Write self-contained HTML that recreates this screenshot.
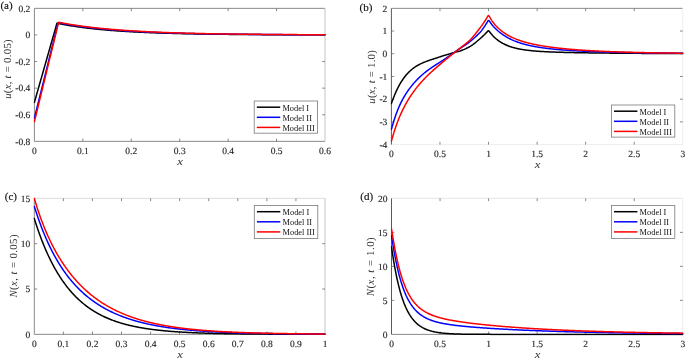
<!DOCTYPE html>
<html><head><meta charset="utf-8"><title>Figure</title>
<style>
html,body{margin:0;padding:0;background:#fff;width:685px;height:359px;overflow:hidden}
svg{display:block}
.t{font-family:"Liberation Serif",serif;font-size:9.5px;fill:#262626;stroke:#262626;stroke-width:0.15px;text-rendering:geometricPrecision}
.lg{font-family:"Liberation Serif",serif;font-size:8.4px;fill:#111}
.ax{font-family:"Liberation Serif",serif;font-size:10.8px;fill:#333;text-rendering:geometricPrecision}
.pl{font-family:"Liberation Serif",serif;font-size:11px;fill:#111;stroke:#111;stroke-width:0.15px}
</style></head><body>
<svg width="685" height="359" viewBox="0 0 685 359"><defs><clipPath id="clipa"><rect x="33.60" y="7.35" width="292.20" height="135.00"/></clipPath><clipPath id="clipb"><rect x="390.60" y="7.35" width="293.00" height="138.25"/></clipPath><clipPath id="clipc"><rect x="33.50" y="197.35" width="292.30" height="138.00"/></clipPath><clipPath id="clipd"><rect x="390.70" y="197.35" width="292.90" height="138.05"/></clipPath></defs><line x1="34.4" y1="8.35" x2="325.0" y2="8.35" stroke="#8a8a8a" stroke-width="1"/><line x1="34.4" y1="141.35" x2="325.0" y2="141.35" stroke="#8a8a8a" stroke-width="1"/><line x1="34.4" y1="8.35" x2="34.4" y2="141.35" stroke="#8a8a8a" stroke-width="1"/><line x1="325.0" y1="8.35" x2="325.0" y2="141.35" stroke="#c4c4c4" stroke-width="1"/><path d="M82.83 141.35v-2.8M82.83 8.35v2.8M131.27 141.35v-2.8M131.27 8.35v2.8M179.70 141.35v-2.8M179.70 8.35v2.8M228.13 141.35v-2.8M228.13 8.35v2.8M276.57 141.35v-2.8M276.57 8.35v2.8M34.4 114.75h2.8M325.0 114.75h-2.8M34.4 88.15h2.8M325.0 88.15h-2.8M34.4 61.55h2.8M325.0 61.55h-2.8M34.4 34.95h2.8M325.0 34.95h-2.8" stroke="#6a6a6a" stroke-width="0.8" fill="none"/><g clip-path="url(#clipa)"><polyline points="34.40,102.38 35.59,98.22 36.77,94.05 37.96,89.89 39.14,85.72 40.33,81.56 41.51,77.39 42.70,73.23 43.88,69.06 45.07,64.90 46.25,60.73 47.44,56.57 48.62,52.40 49.81,48.24 50.99,44.07 52.18,39.91 53.37,35.74 54.55,31.58 55.74,27.41 56.92,23.25 58.27,23.52 59.62,23.78 60.96,24.05 62.31,24.30 63.66,24.55 65.00,24.79 66.35,25.03 67.70,25.26 69.05,25.48 70.39,25.70 71.74,25.92 73.09,26.13 74.43,26.34 75.78,26.54 77.13,26.73 78.48,26.92 79.82,27.11 81.17,27.29 82.52,27.47 83.86,27.65 85.21,27.82 86.56,27.98 87.91,28.14 89.25,28.30 90.60,28.46 91.95,28.61 93.29,28.76 94.64,28.90 95.99,29.04 97.34,29.18 98.68,29.31 100.03,29.45 101.38,29.57 102.72,29.70 104.07,29.82 105.42,29.94 106.77,30.06 108.11,30.17 109.46,30.28 110.81,30.39 112.15,30.50 113.50,30.60 114.85,30.70 116.20,30.80 117.54,30.90 118.89,30.99 120.24,31.08 121.58,31.17 122.93,31.26 124.28,31.35 125.63,31.43 126.97,31.51 128.32,31.59 129.67,31.67 131.01,31.75 132.36,31.82 133.71,31.90 135.05,31.97 136.40,32.04 137.75,32.10 139.10,32.17 140.44,32.24 141.79,32.30 143.14,32.36 144.48,32.42 145.83,32.48 147.18,32.54 148.53,32.59 149.87,32.65 151.22,32.70 152.57,32.75 153.91,32.81 155.26,32.86 156.61,32.90 157.96,32.95 159.30,33.00 160.65,33.04 162.00,33.09 163.34,33.13 164.69,33.17 166.04,33.22 167.39,33.26 168.73,33.30 170.08,33.33 171.43,33.37 172.77,33.41 174.12,33.44 175.47,33.48 176.82,33.51 178.16,33.55 179.51,33.58 180.86,33.61 182.20,33.64 183.55,33.67 184.90,33.70 186.25,33.73 187.59,33.76 188.94,33.79 190.29,33.82 191.63,33.84 192.98,33.87 194.33,33.89 195.68,33.92 197.02,33.94 198.37,33.96 199.72,33.99 201.06,34.01 202.41,34.03 203.76,34.05 205.11,34.07 206.45,34.09 207.80,34.11 209.15,34.13 210.49,34.15 211.84,34.17 213.19,34.19 214.54,34.21 215.88,34.22 217.23,34.24 218.58,34.26 219.92,34.27 221.27,34.29 222.62,34.31 223.97,34.32 225.31,34.34 226.66,34.35 228.01,34.36 229.35,34.38 230.70,34.39 232.05,34.40 233.40,34.42 234.74,34.43 236.09,34.44 237.44,34.45 238.78,34.46 240.13,34.48 241.48,34.49 242.83,34.50 244.17,34.51 245.52,34.52 246.87,34.53 248.21,34.54 249.56,34.55 250.91,34.56 252.26,34.57 253.60,34.58 254.95,34.58 256.30,34.59 257.64,34.60 258.99,34.61 260.34,34.62 261.68,34.62 263.03,34.63 264.38,34.64 265.73,34.65 267.07,34.65 268.42,34.66 269.77,34.67 271.11,34.67 272.46,34.68 273.81,34.69 275.16,34.69 276.50,34.70 277.85,34.70 279.20,34.71 280.54,34.72 281.89,34.72 283.24,34.73 284.59,34.73 285.93,34.74 287.28,34.74 288.63,34.75 289.97,34.75 291.32,34.76 292.67,34.76 294.02,34.77 295.36,34.77 296.71,34.77 298.06,34.78 299.40,34.78 300.75,34.79 302.10,34.79 303.45,34.79 304.79,34.80 306.14,34.80 307.49,34.80 308.83,34.81 310.18,34.81 311.53,34.81 312.88,34.82 314.22,34.82 315.57,34.82 316.92,34.83 318.26,34.83 319.61,34.83 320.96,34.83 322.31,34.84 323.65,34.84 325.00,34.84" fill="none" stroke="#000000" stroke-width="1.5" stroke-linejoin="round" stroke-linecap="round"/><polyline points="34.40,117.94 35.65,112.93 36.90,107.92 38.15,102.91 39.40,97.89 40.65,92.88 41.89,87.87 43.14,82.86 44.39,77.85 45.64,72.83 46.89,67.82 48.14,62.81 49.39,57.80 50.64,52.79 51.89,47.77 53.14,42.76 54.39,37.75 55.63,32.74 56.88,27.73 58.13,22.71 59.47,22.98 60.81,23.23 62.16,23.48 63.50,23.73 64.84,23.97 66.18,24.20 67.52,24.43 68.86,24.66 70.20,24.88 71.54,25.09 72.88,25.31 74.22,25.51 75.57,25.71 76.91,25.91 78.25,26.10 79.59,26.29 80.93,26.48 82.27,26.66 83.61,26.84 84.95,27.01 86.29,27.18 87.64,27.35 88.98,27.51 90.32,27.67 91.66,27.83 93.00,27.98 94.34,28.13 95.68,28.27 97.02,28.42 98.36,28.56 99.70,28.69 101.05,28.83 102.39,28.96 103.73,29.09 105.07,29.21 106.41,29.33 107.75,29.45 109.09,29.57 110.43,29.69 111.77,29.80 113.12,29.91 114.46,30.02 115.80,30.12 117.14,30.23 118.48,30.33 119.82,30.43 121.16,30.52 122.50,30.62 123.84,30.71 125.18,30.80 126.53,30.89 127.87,30.98 129.21,31.06 130.55,31.15 131.89,31.23 133.23,31.31 134.57,31.38 135.91,31.46 137.25,31.54 138.59,31.61 139.94,31.68 141.28,31.75 142.62,31.82 143.96,31.89 145.30,31.95 146.64,32.02 147.98,32.08 149.32,32.14 150.66,32.20 152.01,32.26 153.35,32.32 154.69,32.37 156.03,32.43 157.37,32.48 158.71,32.53 160.05,32.59 161.39,32.64 162.73,32.69 164.07,32.73 165.42,32.78 166.76,32.83 168.10,32.87 169.44,32.92 170.78,32.96 172.12,33.00 173.46,33.05 174.80,33.09 176.14,33.13 177.49,33.17 178.83,33.20 180.17,33.24 181.51,33.28 182.85,33.31 184.19,33.35 185.53,33.38 186.87,33.42 188.21,33.45 189.55,33.48 190.90,33.51 192.24,33.54 193.58,33.57 194.92,33.60 196.26,33.63 197.60,33.66 198.94,33.69 200.28,33.71 201.62,33.74 202.97,33.77 204.31,33.79 205.65,33.82 206.99,33.84 208.33,33.86 209.67,33.89 211.01,33.91 212.35,33.93 213.69,33.95 215.03,33.98 216.38,34.00 217.72,34.02 219.06,34.04 220.40,34.06 221.74,34.08 223.08,34.09 224.42,34.11 225.76,34.13 227.10,34.15 228.44,34.17 229.79,34.18 231.13,34.20 232.47,34.21 233.81,34.23 235.15,34.25 236.49,34.26 237.83,34.28 239.17,34.29 240.51,34.30 241.86,34.32 243.20,34.33 244.54,34.34 245.88,34.36 247.22,34.37 248.56,34.38 249.90,34.40 251.24,34.41 252.58,34.42 253.92,34.43 255.27,34.44 256.61,34.45 257.95,34.46 259.29,34.47 260.63,34.48 261.97,34.49 263.31,34.50 264.65,34.51 265.99,34.52 267.34,34.53 268.68,34.54 270.02,34.55 271.36,34.56 272.70,34.57 274.04,34.57 275.38,34.58 276.72,34.59 278.06,34.60 279.40,34.61 280.75,34.61 282.09,34.62 283.43,34.63 284.77,34.63 286.11,34.64 287.45,34.65 288.79,34.65 290.13,34.66 291.47,34.67 292.81,34.67 294.16,34.68 295.50,34.68 296.84,34.69 298.18,34.70 299.52,34.70 300.86,34.71 302.20,34.71 303.54,34.72 304.88,34.72 306.23,34.73 307.57,34.73 308.91,34.74 310.25,34.74 311.59,34.74 312.93,34.75 314.27,34.75 315.61,34.76 316.95,34.76 318.29,34.77 319.64,34.77 320.98,34.77 322.32,34.78 323.66,34.78 325.00,34.78" fill="none" stroke="#0000ff" stroke-width="1.5" stroke-linejoin="round" stroke-linecap="round"/><polyline points="34.40,121.67 35.67,116.44 36.95,111.21 38.22,105.99 39.50,100.76 40.77,95.53 42.05,90.30 43.32,85.08 44.60,79.85 45.87,74.62 47.15,69.40 48.42,64.17 49.69,58.94 50.97,53.72 52.24,48.49 53.52,43.26 54.79,38.04 56.07,32.81 57.34,27.58 58.62,22.35 59.96,22.61 61.29,22.86 62.63,23.11 63.97,23.35 65.31,23.58 66.65,23.81 67.99,24.04 69.33,24.26 70.66,24.47 72.00,24.69 73.34,24.89 74.68,25.10 76.02,25.30 77.36,25.49 78.70,25.69 80.03,25.87 81.37,26.06 82.71,26.24 84.05,26.41 85.39,26.59 86.73,26.76 88.07,26.92 89.40,27.08 90.74,27.24 92.08,27.40 93.42,27.55 94.76,27.70 96.10,27.85 97.44,27.99 98.77,28.14 100.11,28.27 101.45,28.41 102.79,28.54 104.13,28.67 105.47,28.80 106.81,28.92 108.15,29.04 109.48,29.16 110.82,29.28 112.16,29.40 113.50,29.51 114.84,29.62 116.18,29.73 117.52,29.83 118.85,29.94 120.19,30.04 121.53,30.14 122.87,30.24 124.21,30.33 125.55,30.42 126.89,30.52 128.22,30.61 129.56,30.69 130.90,30.78 132.24,30.87 133.58,30.95 134.92,31.03 136.26,31.11 137.59,31.19 138.93,31.26 140.27,31.34 141.61,31.41 142.95,31.48 144.29,31.55 145.63,31.62 146.96,31.69 148.30,31.75 149.64,31.82 150.98,31.88 152.32,31.95 153.66,32.01 155.00,32.07 156.34,32.12 157.67,32.18 159.01,32.24 160.35,32.29 161.69,32.35 163.03,32.40 164.37,32.45 165.71,32.50 167.04,32.55 168.38,32.60 169.72,32.65 171.06,32.69 172.40,32.74 173.74,32.78 175.08,32.83 176.41,32.87 177.75,32.91 179.09,32.95 180.43,33.00 181.77,33.03 183.11,33.07 184.45,33.11 185.78,33.15 187.12,33.19 188.46,33.22 189.80,33.26 191.14,33.29 192.48,33.32 193.82,33.36 195.15,33.39 196.49,33.42 197.83,33.45 199.17,33.48 200.51,33.51 201.85,33.54 203.19,33.57 204.53,33.60 205.86,33.63 207.20,33.65 208.54,33.68 209.88,33.70 211.22,33.73 212.56,33.75 213.90,33.78 215.23,33.80 216.57,33.83 217.91,33.85 219.25,33.87 220.59,33.89 221.93,33.91 223.27,33.93 224.60,33.96 225.94,33.98 227.28,34.00 228.62,34.01 229.96,34.03 231.30,34.05 232.64,34.07 233.97,34.09 235.31,34.11 236.65,34.12 237.99,34.14 239.33,34.16 240.67,34.17 242.01,34.19 243.34,34.20 244.68,34.22 246.02,34.23 247.36,34.25 248.70,34.26 250.04,34.28 251.38,34.29 252.72,34.30 254.05,34.32 255.39,34.33 256.73,34.34 258.07,34.35 259.41,34.37 260.75,34.38 262.09,34.39 263.42,34.40 264.76,34.41 266.10,34.42 267.44,34.43 268.78,34.44 270.12,34.45 271.46,34.46 272.79,34.47 274.13,34.48 275.47,34.49 276.81,34.50 278.15,34.51 279.49,34.52 280.83,34.53 282.16,34.54 283.50,34.55 284.84,34.55 286.18,34.56 287.52,34.57 288.86,34.58 290.20,34.59 291.53,34.59 292.87,34.60 294.21,34.61 295.55,34.61 296.89,34.62 298.23,34.63 299.57,34.63 300.91,34.64 302.24,34.65 303.58,34.65 304.92,34.66 306.26,34.66 307.60,34.67 308.94,34.68 310.28,34.68 311.61,34.69 312.95,34.69 314.29,34.70 315.63,34.70 316.97,34.71 318.31,34.71 319.65,34.72 320.98,34.72 322.32,34.73 323.66,34.73 325.00,34.74" fill="none" stroke="#ff0000" stroke-width="1.5" stroke-linejoin="round" stroke-linecap="round"/></g><text x="34.40" y="153.85" text-anchor="middle" class="t">0</text><text x="82.83" y="153.85" text-anchor="middle" class="t">0.1</text><text x="131.27" y="153.85" text-anchor="middle" class="t">0.2</text><text x="179.70" y="153.85" text-anchor="middle" class="t">0.3</text><text x="228.13" y="153.85" text-anchor="middle" class="t">0.4</text><text x="276.57" y="153.85" text-anchor="middle" class="t">0.5</text><text x="325.00" y="153.85" text-anchor="middle" class="t">0.6</text><text x="30.30" y="144.65" text-anchor="end" class="t">-0.8</text><text x="30.30" y="118.05" text-anchor="end" class="t">-0.6</text><text x="30.30" y="91.45" text-anchor="end" class="t">-0.4</text><text x="30.30" y="64.85" text-anchor="end" class="t">-0.2</text><text x="30.30" y="38.25" text-anchor="end" class="t">0</text><text x="30.30" y="11.65" text-anchor="end" class="t">0.2</text><rect x="254.2" y="101" width="63.40" height="32.20" fill="#fff" stroke="#7a7a7a" stroke-width="0.8"/><line x1="256.80" y1="107.20" x2="280.20" y2="107.20" stroke="#000000" stroke-width="1.5"/><text x="282.40" y="110.60" class="lg">Model I</text><line x1="256.80" y1="117.30" x2="280.20" y2="117.30" stroke="#0000ff" stroke-width="1.5"/><text x="282.40" y="120.70" class="lg">Model II</text><line x1="256.80" y1="127.40" x2="280.20" y2="127.40" stroke="#ff0000" stroke-width="1.5"/><text x="282.40" y="130.80" class="lg">Model III</text><line x1="391.4" y1="8.35" x2="682.8" y2="8.35" stroke="#8a8a8a" stroke-width="1"/><line x1="391.4" y1="144.6" x2="682.8" y2="144.6" stroke="#eeeeee" stroke-width="1"/><line x1="391.4" y1="8.35" x2="391.4" y2="144.6" stroke="#5a5a5a" stroke-width="1"/><line x1="682.8" y1="8.35" x2="682.8" y2="144.6" stroke="#eeeeee" stroke-width="1"/><path d="M439.97 144.6v-2.8M439.97 8.35v2.8M488.53 144.6v-2.8M488.53 8.35v2.8M537.10 144.6v-2.8M537.10 8.35v2.8M585.67 144.6v-2.8M585.67 8.35v2.8M634.23 144.6v-2.8M634.23 8.35v2.8M391.4 121.89h2.8M682.8 121.89h-2.8M391.4 99.18h2.8M682.8 99.18h-2.8M391.4 76.47h2.8M682.8 76.47h-2.8M391.4 53.77h2.8M682.8 53.77h-2.8M391.4 31.06h2.8M682.8 31.06h-2.8" stroke="#6a6a6a" stroke-width="0.8" fill="none"/><g clip-path="url(#clipb)"><polyline points="391.40,103.50 391.98,101.83 392.57,100.23 393.15,98.67 393.73,97.17 394.31,95.72 394.90,94.32 395.48,92.97 396.06,91.66 396.65,90.40 397.23,89.19 397.81,88.01 398.39,86.87 398.98,85.78 399.56,84.72 400.14,83.70 400.72,82.72 401.31,81.77 401.89,80.85 402.47,79.97 403.06,79.11 403.64,78.29 404.22,77.50 404.80,76.73 405.39,76.00 405.97,75.29 406.55,74.60 407.14,73.94 407.72,73.31 408.30,72.69 408.88,72.10 409.47,71.53 410.05,70.98 410.63,70.45 411.22,69.94 411.80,69.45 412.38,68.98 412.96,68.52 413.55,68.08 414.13,67.66 414.71,67.25 415.29,66.85 415.88,66.47 416.46,66.11 417.04,65.75 417.63,65.41 418.21,65.08 418.79,64.76 419.37,64.46 419.96,64.16 420.54,63.87 421.12,63.60 421.71,63.33 422.29,63.06 422.87,62.80 423.45,62.55 424.04,62.31 424.62,62.07 425.20,61.84 425.79,61.61 426.37,61.38 426.95,61.16 427.53,60.95 428.12,60.74 428.70,60.53 429.28,60.33 429.86,60.13 430.45,59.93 431.03,59.74 431.61,59.54 432.20,59.36 432.78,59.17 433.36,58.98 433.94,58.80 434.53,58.62 435.11,58.44 435.69,58.26 436.28,58.07 436.86,57.88 437.44,57.69 438.02,57.49 438.61,57.29 439.19,57.09 439.77,56.89 440.36,56.70 440.94,56.50 441.52,56.30 442.10,56.11 442.69,55.92 443.27,55.74 443.85,55.56 444.43,55.39 445.02,55.22 445.60,55.06 446.18,54.89 446.77,54.73 447.35,54.56 447.93,54.39 448.51,54.22 449.10,54.05 449.68,53.87 450.26,53.70 450.85,53.52 451.43,53.34 452.01,53.16 452.59,52.97 453.18,52.78 453.76,52.59 454.34,52.40 454.93,52.21 455.51,52.05 456.09,51.91 456.67,51.78 457.26,51.67 457.84,51.55 458.42,51.42 459.00,51.28 459.59,51.11 460.17,50.92 460.75,50.71 461.34,50.50 461.92,50.28 462.50,50.06 463.08,49.83 463.67,49.59 464.25,49.35 464.83,49.09 465.42,48.83 466.00,48.57 466.58,48.29 467.16,48.00 467.75,47.71 468.33,47.40 468.91,47.09 469.50,46.76 470.08,46.43 470.66,46.08 471.24,45.71 471.83,45.32 472.41,44.92 472.99,44.51 473.57,44.08 474.16,43.64 474.74,43.19 475.32,42.72 475.91,42.25 476.49,41.77 477.07,41.28 477.65,40.79 478.24,40.29 478.82,39.79 479.40,39.28 479.99,38.77 480.57,38.26 481.15,37.74 481.73,37.21 482.32,36.67 482.90,36.13 483.48,35.57 484.07,35.01 484.65,34.43 485.23,33.84 485.81,33.25 486.40,32.64 486.98,32.01 487.56,31.38 488.14,30.86 488.73,30.83 489.31,31.41 489.89,32.19 490.48,32.95 491.06,33.67 491.64,34.37 492.22,35.03 492.81,35.67 493.39,36.28 493.97,36.86 494.56,37.42 495.14,37.96 495.72,38.48 496.30,38.98 496.89,39.45 497.47,39.91 498.05,40.35 498.64,40.78 499.22,41.19 499.80,41.58 500.38,41.96 500.97,42.32 501.55,42.67 502.13,43.01 502.71,43.34 503.30,43.65 503.88,43.95 504.46,44.24 505.05,44.52 505.63,44.79 506.21,45.05 506.79,45.30 507.38,45.54 507.96,45.77 508.54,46.00 509.13,46.21 509.71,46.42 510.29,46.62 510.87,46.82 511.46,47.00 512.04,47.18 512.62,47.36 513.21,47.52 513.79,47.69 514.37,47.84 514.95,47.99 515.54,48.14 516.12,48.28 516.70,48.41 517.28,48.54 517.87,48.67 518.45,48.79 519.03,48.91 519.62,49.03 520.20,49.14 520.78,49.24 521.36,49.35 521.95,49.44 522.53,49.54 523.11,49.63 523.70,49.72 524.28,49.81 524.86,49.90 525.44,49.98 526.03,50.06 526.61,50.13 527.19,50.21 527.78,50.28 528.36,50.35 528.94,50.42 529.52,50.48 530.11,50.55 530.69,50.61 531.27,50.67 531.85,50.72 532.44,50.78 533.02,50.83 533.60,50.89 534.19,50.94 534.77,50.99 535.35,51.04 535.93,51.08 536.52,51.13 537.10,51.17 537.68,51.22 538.27,51.26 538.85,51.30 539.43,51.34 540.01,51.38 540.60,51.42 541.18,51.45 541.76,51.49 542.35,51.53 542.93,51.56 543.51,51.59 544.09,51.62 544.68,51.66 545.26,51.69 545.84,51.72 546.42,51.75 547.01,51.77 547.59,51.80 548.17,51.83 548.76,51.86 549.34,51.88 549.92,51.91 550.50,51.93 551.09,51.96 551.67,51.98 552.25,52.00 552.84,52.03 553.42,52.05 554.00,52.07 554.58,52.09 555.17,52.11 555.75,52.13 556.33,52.15 556.92,52.17 557.50,52.19 558.08,52.21 558.66,52.23 559.25,52.25 559.83,52.27 560.41,52.28 560.99,52.30 561.58,52.32 562.16,52.33 562.74,52.35 563.33,52.37 563.91,52.38 564.49,52.40 565.07,52.41 565.66,52.43 566.24,52.44 566.82,52.46 567.41,52.47 567.99,52.49 568.57,52.50 569.15,52.51 569.74,52.53 570.32,52.54 570.90,52.55 571.49,52.56 572.07,52.58 572.65,52.59 573.23,52.60 573.82,52.61 574.40,52.63 574.98,52.64 575.56,52.65 576.15,52.66 576.73,52.67 577.31,52.68 577.90,52.69 578.48,52.70 579.06,52.71 579.64,52.72 580.23,52.74 580.81,52.75 581.39,52.76 581.98,52.77 582.56,52.78 583.14,52.79 583.72,52.79 584.31,52.80 584.89,52.81 585.47,52.82 586.06,52.83 586.64,52.84 587.22,52.85 587.80,52.86 588.39,52.87 588.97,52.88 589.55,52.88 590.13,52.89 590.72,52.90 591.30,52.91 591.88,52.92 592.47,52.93 593.05,52.93 593.63,52.94 594.21,52.95 594.80,52.96 595.38,52.96 595.96,52.97 596.55,52.98 597.13,52.99 597.71,52.99 598.29,53.00 598.88,53.01 599.46,53.01 600.04,53.02 600.63,53.03 601.21,53.04 601.79,53.04 602.37,53.05 602.96,53.06 603.54,53.06 604.12,53.07 604.70,53.07 605.29,53.08 605.87,53.09 606.45,53.09 607.04,53.10 607.62,53.11 608.20,53.11 608.78,53.12 609.37,53.12 609.95,53.13 610.53,53.14 611.12,53.14 611.70,53.15 612.28,53.15 612.86,53.16 613.45,53.16 614.03,53.17 614.61,53.17 615.20,53.18 615.78,53.19 616.36,53.19 616.94,53.20 617.53,53.20 618.11,53.21 618.69,53.21 619.27,53.22 619.86,53.22 620.44,53.23 621.02,53.23 621.61,53.24 622.19,53.24 622.77,53.25 623.35,53.25 623.94,53.25 624.52,53.26 625.10,53.26 625.69,53.27 626.27,53.27 626.85,53.28 627.43,53.28 628.02,53.29 628.60,53.29 629.18,53.29 629.77,53.30 630.35,53.30 630.93,53.31 631.51,53.31 632.10,53.32 632.68,53.32 633.26,53.32 633.84,53.33 634.43,53.33 635.01,53.34 635.59,53.34 636.18,53.34 636.76,53.35 637.34,53.35 637.92,53.35 638.51,53.36 639.09,53.36 639.67,53.37 640.26,53.37 640.84,53.37 641.42,53.38 642.00,53.38 642.59,53.38 643.17,53.39 643.75,53.39 644.34,53.39 644.92,53.40 645.50,53.40 646.08,53.40 646.67,53.41 647.25,53.41 647.83,53.41 648.41,53.42 649.00,53.42 649.58,53.42 650.16,53.43 650.75,53.43 651.33,53.43 651.91,53.43 652.49,53.44 653.08,53.44 653.66,53.44 654.24,53.45 654.83,53.45 655.41,53.45 655.99,53.45 656.57,53.46 657.16,53.46 657.74,53.46 658.32,53.47 658.91,53.47 659.49,53.47 660.07,53.47 660.65,53.48 661.24,53.48 661.82,53.48 662.40,53.48 662.98,53.49 663.57,53.49 664.15,53.49 664.73,53.49 665.32,53.50 665.90,53.50 666.48,53.50 667.06,53.50 667.65,53.51 668.23,53.51 668.81,53.51 669.40,53.51 669.98,53.51 670.56,53.52 671.14,53.52 671.73,53.52 672.31,53.52 672.89,53.53 673.48,53.53 674.06,53.53 674.64,53.53 675.22,53.53 675.81,53.54 676.39,53.54 676.97,53.54 677.55,53.54 678.14,53.54 678.72,53.55 679.30,53.55 679.89,53.55 680.47,53.55 681.05,53.55 681.63,53.56 682.22,53.56 682.80,53.56" fill="none" stroke="#000000" stroke-width="1.5" stroke-linejoin="round" stroke-linecap="round"/><polyline points="391.40,129.28 391.98,127.18 392.57,125.15 393.15,123.18 393.73,121.29 394.31,119.46 394.90,117.69 395.48,115.98 396.06,114.33 396.65,112.74 397.23,111.21 397.81,109.73 398.39,108.30 398.98,106.93 399.56,105.61 400.14,104.33 400.72,103.11 401.31,101.94 401.89,100.80 402.47,99.70 403.06,98.63 403.64,97.59 404.22,96.58 404.80,95.60 405.39,94.64 405.97,93.72 406.55,92.81 407.14,91.93 407.72,91.07 408.30,90.24 408.88,89.42 409.47,88.63 410.05,87.85 410.63,87.09 411.22,86.35 411.80,85.63 412.38,84.92 412.96,84.23 413.55,83.55 414.13,82.88 414.71,82.23 415.29,81.59 415.88,80.96 416.46,80.34 417.04,79.74 417.63,79.14 418.21,78.56 418.79,77.98 419.37,77.42 419.96,76.86 420.54,76.31 421.12,75.77 421.71,75.24 422.29,74.73 422.87,74.22 423.45,73.73 424.04,73.25 424.62,72.77 425.20,72.31 425.79,71.85 426.37,71.41 426.95,70.97 427.53,70.53 428.12,70.10 428.70,69.68 429.28,69.26 429.86,68.85 430.45,68.44 431.03,68.04 431.61,67.64 432.20,67.24 432.78,66.84 433.36,66.45 433.94,66.05 434.53,65.66 435.11,65.27 435.69,64.88 436.28,64.50 436.86,64.13 437.44,63.76 438.02,63.39 438.61,63.02 439.19,62.66 439.77,62.30 440.36,61.94 440.94,61.57 441.52,61.21 442.10,60.84 442.69,60.46 443.27,60.09 443.85,59.70 444.43,59.31 445.02,58.91 445.60,58.50 446.18,58.10 446.77,57.69 447.35,57.28 447.93,56.88 448.51,56.47 449.10,56.06 449.68,55.65 450.26,55.24 450.85,54.83 451.43,54.42 452.01,54.00 452.59,53.59 453.18,53.18 453.76,52.77 454.34,52.36 454.93,51.95 455.51,51.55 456.09,51.14 456.67,50.74 457.26,50.34 457.84,49.94 458.42,49.54 459.00,49.14 459.59,48.74 460.17,48.34 460.75,47.94 461.34,47.56 461.92,47.18 462.50,46.80 463.08,46.42 463.67,46.05 464.25,45.67 464.83,45.29 465.42,44.91 466.00,44.52 466.58,44.13 467.16,43.72 467.75,43.31 468.33,42.88 468.91,42.44 469.50,41.99 470.08,41.52 470.66,41.03 471.24,40.55 471.83,40.05 472.41,39.56 472.99,39.05 473.57,38.54 474.16,38.03 474.74,37.50 475.32,36.98 475.91,36.44 476.49,35.90 477.07,35.35 477.65,34.79 478.24,34.23 478.82,33.65 479.40,33.07 479.99,32.48 480.57,31.85 481.15,31.15 481.73,30.40 482.32,29.60 482.90,28.78 483.48,27.94 484.07,27.08 484.65,26.22 485.23,25.35 485.81,24.45 486.40,23.51 486.98,22.54 487.56,21.53 488.14,20.64 488.73,20.42 489.31,21.03 489.89,21.90 490.48,22.75 491.06,23.55 491.64,24.32 492.22,25.04 492.81,25.74 493.39,26.41 493.97,27.05 494.56,27.67 495.14,28.26 495.72,28.84 496.30,29.40 496.89,29.94 497.47,30.47 498.05,30.98 498.64,31.48 499.22,31.96 499.80,32.42 500.38,32.88 500.97,33.32 501.55,33.75 502.13,34.17 502.71,34.58 503.30,34.98 503.88,35.36 504.46,35.74 505.05,36.11 505.63,36.46 506.21,36.81 506.79,37.15 507.38,37.48 507.96,37.80 508.54,38.11 509.13,38.42 509.71,38.72 510.29,39.01 510.87,39.29 511.46,39.57 512.04,39.84 512.62,40.10 513.21,40.35 513.79,40.60 514.37,40.85 514.95,41.08 515.54,41.31 516.12,41.54 516.70,41.76 517.28,41.98 517.87,42.19 518.45,42.39 519.03,42.59 519.62,42.79 520.20,42.98 520.78,43.16 521.36,43.34 521.95,43.52 522.53,43.70 523.11,43.87 523.70,44.03 524.28,44.19 524.86,44.35 525.44,44.51 526.03,44.66 526.61,44.80 527.19,44.95 527.78,45.09 528.36,45.23 528.94,45.36 529.52,45.50 530.11,45.62 530.69,45.75 531.27,45.87 531.85,46.00 532.44,46.11 533.02,46.23 533.60,46.34 534.19,46.45 534.77,46.56 535.35,46.67 535.93,46.77 536.52,46.88 537.10,46.98 537.68,47.08 538.27,47.17 538.85,47.27 539.43,47.36 540.01,47.45 540.60,47.54 541.18,47.62 541.76,47.71 542.35,47.79 542.93,47.88 543.51,47.96 544.09,48.03 544.68,48.11 545.26,48.19 545.84,48.26 546.42,48.34 547.01,48.41 547.59,48.48 548.17,48.55 548.76,48.62 549.34,48.68 549.92,48.75 550.50,48.81 551.09,48.88 551.67,48.94 552.25,49.00 552.84,49.06 553.42,49.12 554.00,49.18 554.58,49.23 555.17,49.29 555.75,49.34 556.33,49.40 556.92,49.45 557.50,49.50 558.08,49.56 558.66,49.61 559.25,49.66 559.83,49.71 560.41,49.75 560.99,49.80 561.58,49.85 562.16,49.89 562.74,49.94 563.33,49.98 563.91,50.03 564.49,50.07 565.07,50.11 565.66,50.16 566.24,50.20 566.82,50.24 567.41,50.28 567.99,50.32 568.57,50.36 569.15,50.39 569.74,50.43 570.32,50.47 570.90,50.51 571.49,50.54 572.07,50.58 572.65,50.61 573.23,50.65 573.82,50.68 574.40,50.72 574.98,50.75 575.56,50.78 576.15,50.81 576.73,50.85 577.31,50.88 577.90,50.91 578.48,50.94 579.06,50.97 579.64,51.00 580.23,51.03 580.81,51.06 581.39,51.09 581.98,51.12 582.56,51.14 583.14,51.17 583.72,51.20 584.31,51.23 584.89,51.25 585.47,51.28 586.06,51.30 586.64,51.33 587.22,51.36 587.80,51.38 588.39,51.40 588.97,51.43 589.55,51.45 590.13,51.48 590.72,51.50 591.30,51.52 591.88,51.55 592.47,51.57 593.05,51.59 593.63,51.61 594.21,51.64 594.80,51.66 595.38,51.68 595.96,51.70 596.55,51.72 597.13,51.74 597.71,51.76 598.29,51.78 598.88,51.80 599.46,51.82 600.04,51.84 600.63,51.86 601.21,51.88 601.79,51.90 602.37,51.92 602.96,51.93 603.54,51.95 604.12,51.97 604.70,51.99 605.29,52.01 605.87,52.02 606.45,52.04 607.04,52.06 607.62,52.07 608.20,52.09 608.78,52.11 609.37,52.12 609.95,52.14 610.53,52.16 611.12,52.17 611.70,52.19 612.28,52.20 612.86,52.22 613.45,52.23 614.03,52.25 614.61,52.26 615.20,52.28 615.78,52.29 616.36,52.31 616.94,52.32 617.53,52.33 618.11,52.35 618.69,52.36 619.27,52.38 619.86,52.39 620.44,52.40 621.02,52.42 621.61,52.43 622.19,52.44 622.77,52.45 623.35,52.47 623.94,52.48 624.52,52.49 625.10,52.50 625.69,52.52 626.27,52.53 626.85,52.54 627.43,52.55 628.02,52.56 628.60,52.58 629.18,52.59 629.77,52.60 630.35,52.61 630.93,52.62 631.51,52.63 632.10,52.64 632.68,52.65 633.26,52.66 633.84,52.67 634.43,52.68 635.01,52.70 635.59,52.71 636.18,52.72 636.76,52.73 637.34,52.74 637.92,52.75 638.51,52.75 639.09,52.76 639.67,52.77 640.26,52.78 640.84,52.79 641.42,52.80 642.00,52.81 642.59,52.82 643.17,52.83 643.75,52.84 644.34,52.85 644.92,52.86 645.50,52.86 646.08,52.87 646.67,52.88 647.25,52.89 647.83,52.90 648.41,52.91 649.00,52.91 649.58,52.92 650.16,52.93 650.75,52.94 651.33,52.95 651.91,52.95 652.49,52.96 653.08,52.97 653.66,52.98 654.24,52.98 654.83,52.99 655.41,53.00 655.99,53.01 656.57,53.01 657.16,53.02 657.74,53.03 658.32,53.03 658.91,53.04 659.49,53.05 660.07,53.06 660.65,53.06 661.24,53.07 661.82,53.08 662.40,53.08 662.98,53.09 663.57,53.09 664.15,53.10 664.73,53.11 665.32,53.11 665.90,53.12 666.48,53.13 667.06,53.13 667.65,53.14 668.23,53.14 668.81,53.15 669.40,53.16 669.98,53.16 670.56,53.17 671.14,53.17 671.73,53.18 672.31,53.18 672.89,53.19 673.48,53.19 674.06,53.20 674.64,53.21 675.22,53.21 675.81,53.22 676.39,53.22 676.97,53.23 677.55,53.23 678.14,53.24 678.72,53.24 679.30,53.25 679.89,53.25 680.47,53.26 681.05,53.26 681.63,53.27 682.22,53.27 682.80,53.27" fill="none" stroke="#0000ff" stroke-width="1.5" stroke-linejoin="round" stroke-linecap="round"/><polyline points="391.40,141.07 391.98,139.00 392.57,136.99 393.15,135.03 393.73,133.13 394.31,131.28 394.90,129.48 395.48,127.73 396.06,126.04 396.65,124.39 397.23,122.78 397.81,121.23 398.39,119.72 398.98,118.26 399.56,116.84 400.14,115.47 400.72,114.14 401.31,112.86 401.89,111.61 402.47,110.39 403.06,109.20 403.64,108.04 404.22,106.90 404.80,105.80 405.39,104.71 405.97,103.66 406.55,102.62 407.14,101.61 407.72,100.62 408.30,99.65 408.88,98.70 409.47,97.77 410.05,96.86 410.63,95.97 411.22,95.09 411.80,94.23 412.38,93.39 412.96,92.56 413.55,91.75 414.13,90.95 414.71,90.17 415.29,89.40 415.88,88.64 416.46,87.90 417.04,87.16 417.63,86.44 418.21,85.73 418.79,85.02 419.37,84.33 419.96,83.65 420.54,82.98 421.12,82.32 421.71,81.66 422.29,81.02 422.87,80.38 423.45,79.76 424.04,79.14 424.62,78.53 425.20,77.92 425.79,77.33 426.37,76.74 426.95,76.16 427.53,75.58 428.12,75.01 428.70,74.45 429.28,73.89 429.86,73.34 430.45,72.79 431.03,72.25 431.61,71.72 432.20,71.18 432.78,70.65 433.36,70.13 433.94,69.61 434.53,69.09 435.11,68.58 435.69,68.07 436.28,67.56 436.86,67.06 437.44,66.56 438.02,66.06 438.61,65.56 439.19,65.07 439.77,64.58 440.36,64.09 440.94,63.60 441.52,63.11 442.10,62.63 442.69,62.15 443.27,61.66 443.85,61.18 444.43,60.70 445.02,60.22 445.60,59.74 446.18,59.27 446.77,58.79 447.35,58.31 447.93,57.83 448.51,57.36 449.10,56.88 449.68,56.40 450.26,55.93 450.85,55.45 451.43,54.98 452.01,54.51 452.59,54.05 453.18,53.58 453.76,53.12 454.34,52.66 454.93,52.20 455.51,51.73 456.09,51.27 456.67,50.81 457.26,50.35 457.84,49.89 458.42,49.43 459.00,48.96 459.59,48.49 460.17,48.03 460.75,47.57 461.34,47.11 461.92,46.66 462.50,46.22 463.08,45.78 463.67,45.33 464.25,44.89 464.83,44.44 465.42,43.98 466.00,43.52 466.58,43.05 467.16,42.57 467.75,42.07 468.33,41.56 468.91,41.03 469.50,40.48 470.08,39.92 470.66,39.33 471.24,38.71 471.83,38.08 472.41,37.43 472.99,36.76 473.57,36.07 474.16,35.37 474.74,34.66 475.32,33.94 475.91,33.21 476.49,32.46 477.07,31.72 477.65,30.96 478.24,30.21 478.82,29.45 479.40,28.68 479.99,27.92 480.57,27.15 481.15,26.37 481.73,25.57 482.32,24.76 482.90,23.94 483.48,23.11 484.07,22.26 484.65,21.39 485.23,20.50 485.81,19.59 486.40,18.64 486.98,17.66 487.56,16.63 488.14,15.74 488.73,15.60 489.31,16.39 489.89,17.46 490.48,18.49 491.06,19.45 491.64,20.36 492.22,21.21 492.81,22.02 493.39,22.79 493.97,23.53 494.56,24.24 495.14,24.91 495.72,25.56 496.30,26.19 496.89,26.79 497.47,27.38 498.05,27.94 498.64,28.48 499.22,29.01 499.80,29.52 500.38,30.01 500.97,30.49 501.55,30.95 502.13,31.40 502.71,31.84 503.30,32.26 503.88,32.67 504.46,33.07 505.05,33.46 505.63,33.84 506.21,34.20 506.79,34.56 507.38,34.91 507.96,35.24 508.54,35.57 509.13,35.89 509.71,36.20 510.29,36.50 510.87,36.80 511.46,37.08 512.04,37.36 512.62,37.64 513.21,37.90 513.79,38.16 514.37,38.41 514.95,38.66 515.54,38.90 516.12,39.14 516.70,39.37 517.28,39.59 517.87,39.81 518.45,40.02 519.03,40.23 519.62,40.43 520.20,40.63 520.78,40.83 521.36,41.02 521.95,41.21 522.53,41.39 523.11,41.57 523.70,41.74 524.28,41.91 524.86,42.08 525.44,42.24 526.03,42.41 526.61,42.56 527.19,42.72 527.78,42.87 528.36,43.02 528.94,43.16 529.52,43.31 530.11,43.45 530.69,43.58 531.27,43.72 531.85,43.85 532.44,43.98 533.02,44.11 533.60,44.23 534.19,44.36 534.77,44.48 535.35,44.60 535.93,44.71 536.52,44.83 537.10,44.94 537.68,45.05 538.27,45.16 538.85,45.27 539.43,45.37 540.01,45.48 540.60,45.58 541.18,45.68 541.76,45.78 542.35,45.88 542.93,45.97 543.51,46.07 544.09,46.16 544.68,46.25 545.26,46.34 545.84,46.43 546.42,46.52 547.01,46.60 547.59,46.69 548.17,46.77 548.76,46.85 549.34,46.93 549.92,47.01 550.50,47.09 551.09,47.17 551.67,47.25 552.25,47.32 552.84,47.40 553.42,47.47 554.00,47.54 554.58,47.62 555.17,47.69 555.75,47.76 556.33,47.82 556.92,47.89 557.50,47.96 558.08,48.02 558.66,48.09 559.25,48.15 559.83,48.22 560.41,48.28 560.99,48.34 561.58,48.40 562.16,48.46 562.74,48.52 563.33,48.58 563.91,48.64 564.49,48.70 565.07,48.75 565.66,48.81 566.24,48.87 566.82,48.92 567.41,48.97 567.99,49.03 568.57,49.08 569.15,49.13 569.74,49.18 570.32,49.23 570.90,49.28 571.49,49.33 572.07,49.38 572.65,49.43 573.23,49.48 573.82,49.52 574.40,49.57 574.98,49.62 575.56,49.66 576.15,49.71 576.73,49.75 577.31,49.80 577.90,49.84 578.48,49.88 579.06,49.93 579.64,49.97 580.23,50.01 580.81,50.05 581.39,50.09 581.98,50.13 582.56,50.17 583.14,50.21 583.72,50.25 584.31,50.29 584.89,50.32 585.47,50.36 586.06,50.40 586.64,50.43 587.22,50.47 587.80,50.51 588.39,50.54 588.97,50.58 589.55,50.61 590.13,50.65 590.72,50.68 591.30,50.71 591.88,50.75 592.47,50.78 593.05,50.81 593.63,50.84 594.21,50.87 594.80,50.91 595.38,50.94 595.96,50.97 596.55,51.00 597.13,51.03 597.71,51.06 598.29,51.09 598.88,51.11 599.46,51.14 600.04,51.17 600.63,51.20 601.21,51.23 601.79,51.25 602.37,51.28 602.96,51.31 603.54,51.33 604.12,51.36 604.70,51.39 605.29,51.41 605.87,51.44 606.45,51.46 607.04,51.49 607.62,51.51 608.20,51.54 608.78,51.56 609.37,51.58 609.95,51.61 610.53,51.63 611.12,51.65 611.70,51.68 612.28,51.70 612.86,51.72 613.45,51.74 614.03,51.76 614.61,51.79 615.20,51.81 615.78,51.83 616.36,51.85 616.94,51.87 617.53,51.89 618.11,51.91 618.69,51.93 619.27,51.95 619.86,51.97 620.44,51.99 621.02,52.01 621.61,52.03 622.19,52.05 622.77,52.06 623.35,52.08 623.94,52.10 624.52,52.12 625.10,52.14 625.69,52.15 626.27,52.17 626.85,52.19 627.43,52.20 628.02,52.22 628.60,52.24 629.18,52.25 629.77,52.27 630.35,52.29 630.93,52.30 631.51,52.32 632.10,52.33 632.68,52.35 633.26,52.36 633.84,52.38 634.43,52.39 635.01,52.41 635.59,52.42 636.18,52.44 636.76,52.45 637.34,52.47 637.92,52.48 638.51,52.49 639.09,52.51 639.67,52.52 640.26,52.53 640.84,52.55 641.42,52.56 642.00,52.57 642.59,52.59 643.17,52.60 643.75,52.61 644.34,52.62 644.92,52.64 645.50,52.65 646.08,52.66 646.67,52.67 647.25,52.68 647.83,52.69 648.41,52.71 649.00,52.72 649.58,52.73 650.16,52.74 650.75,52.75 651.33,52.76 651.91,52.77 652.49,52.78 653.08,52.79 653.66,52.80 654.24,52.81 654.83,52.82 655.41,52.83 655.99,52.84 656.57,52.85 657.16,52.86 657.74,52.87 658.32,52.88 658.91,52.89 659.49,52.90 660.07,52.91 660.65,52.92 661.24,52.93 661.82,52.94 662.40,52.95 662.98,52.96 663.57,52.97 664.15,52.97 664.73,52.98 665.32,52.99 665.90,53.00 666.48,53.01 667.06,53.02 667.65,53.02 668.23,53.03 668.81,53.04 669.40,53.05 669.98,53.05 670.56,53.06 671.14,53.07 671.73,53.08 672.31,53.08 672.89,53.09 673.48,53.10 674.06,53.11 674.64,53.11 675.22,53.12 675.81,53.13 676.39,53.13 676.97,53.14 677.55,53.15 678.14,53.15 678.72,53.16 679.30,53.17 679.89,53.17 680.47,53.18 681.05,53.19 681.63,53.19 682.22,53.20 682.80,53.20" fill="none" stroke="#ff0000" stroke-width="1.5" stroke-linejoin="round" stroke-linecap="round"/></g><text x="391.40" y="157.10" text-anchor="middle" class="t">0</text><text x="439.97" y="157.10" text-anchor="middle" class="t">0.5</text><text x="488.53" y="157.10" text-anchor="middle" class="t">1</text><text x="537.10" y="157.10" text-anchor="middle" class="t">1.5</text><text x="585.67" y="157.10" text-anchor="middle" class="t">2</text><text x="634.23" y="157.10" text-anchor="middle" class="t">2.5</text><text x="682.80" y="157.10" text-anchor="middle" class="t">3</text><text x="387.30" y="147.90" text-anchor="end" class="t">-4</text><text x="387.30" y="125.19" text-anchor="end" class="t">-3</text><text x="387.30" y="102.48" text-anchor="end" class="t">-2</text><text x="387.30" y="79.77" text-anchor="end" class="t">-1</text><text x="387.30" y="57.07" text-anchor="end" class="t">0</text><text x="387.30" y="34.36" text-anchor="end" class="t">1</text><text x="387.30" y="11.65" text-anchor="end" class="t">2</text><rect x="611.4" y="105" width="63.40" height="32.10" fill="#fff" stroke="#7a7a7a" stroke-width="0.8"/><line x1="614.00" y1="111.20" x2="637.40" y2="111.20" stroke="#000000" stroke-width="1.5"/><text x="639.60" y="114.60" class="lg">Model I</text><line x1="614.00" y1="121.30" x2="637.40" y2="121.30" stroke="#0000ff" stroke-width="1.5"/><text x="639.60" y="124.70" class="lg">Model II</text><line x1="614.00" y1="131.40" x2="637.40" y2="131.40" stroke="#ff0000" stroke-width="1.5"/><text x="639.60" y="134.80" class="lg">Model III</text><line x1="34.3" y1="198.35" x2="325.0" y2="198.35" stroke="#dcdcdc" stroke-width="1"/><line x1="34.3" y1="334.35" x2="325.0" y2="334.35" stroke="#8a8a8a" stroke-width="1"/><line x1="34.3" y1="198.35" x2="34.3" y2="334.35" stroke="#8a8a8a" stroke-width="1"/><line x1="325.0" y1="198.35" x2="325.0" y2="334.35" stroke="#c4c4c4" stroke-width="1"/><path d="M63.37 334.35v-2.8M63.37 198.35v2.8M92.44 334.35v-2.8M92.44 198.35v2.8M121.51 334.35v-2.8M121.51 198.35v2.8M150.58 334.35v-2.8M150.58 198.35v2.8M179.65 334.35v-2.8M179.65 198.35v2.8M208.72 334.35v-2.8M208.72 198.35v2.8M237.79 334.35v-2.8M237.79 198.35v2.8M266.86 334.35v-2.8M266.86 198.35v2.8M295.93 334.35v-2.8M295.93 198.35v2.8M34.3 289.02h2.8M325.0 289.02h-2.8M34.3 243.68h2.8M325.0 243.68h-2.8" stroke="#6a6a6a" stroke-width="0.8" fill="none"/><g clip-path="url(#clipc)"><polyline points="34.30,218.55 34.88,220.41 35.47,222.24 36.05,224.04 36.63,225.80 37.21,227.54 37.80,229.25 38.38,230.92 38.96,232.57 39.54,234.19 40.13,235.79 40.71,237.35 41.29,238.89 41.87,240.41 42.46,241.90 43.04,243.36 43.62,244.80 44.20,246.22 44.79,247.61 45.37,248.98 45.95,250.33 46.53,251.65 47.12,252.95 47.70,254.23 48.28,255.50 48.86,256.73 49.45,257.95 50.03,259.15 50.61,260.33 51.19,261.49 51.78,262.64 52.36,263.76 52.94,264.87 53.52,265.95 54.11,267.02 54.69,268.07 55.27,269.11 55.85,270.13 56.44,271.13 57.02,272.12 57.60,273.09 58.19,274.04 58.77,274.98 59.35,275.91 59.93,276.82 60.52,277.71 61.10,278.60 61.68,279.46 62.26,280.32 62.85,281.16 63.43,281.98 64.01,282.80 64.59,283.60 65.18,284.39 65.76,285.16 66.34,285.92 66.92,286.68 67.51,287.41 68.09,288.14 68.67,288.86 69.25,289.56 69.84,290.26 70.42,290.94 71.00,291.61 71.58,292.27 72.17,292.93 72.75,293.57 73.33,294.20 73.91,294.82 74.50,295.43 75.08,296.03 75.66,296.62 76.24,297.21 76.83,297.78 77.41,298.35 77.99,298.90 78.57,299.45 79.16,299.99 79.74,300.52 80.32,301.04 80.91,301.56 81.49,302.06 82.07,302.56 82.65,303.05 83.24,303.53 83.82,304.01 84.40,304.48 84.98,304.94 85.57,305.39 86.15,305.84 86.73,306.28 87.31,306.71 87.90,307.14 88.48,307.56 89.06,307.97 89.64,308.38 90.23,308.78 90.81,309.17 91.39,309.56 91.97,309.94 92.56,310.32 93.14,310.69 93.72,311.05 94.30,311.41 94.89,311.76 95.47,312.11 96.05,312.45 96.63,312.79 97.22,313.12 97.80,313.45 98.38,313.77 98.96,314.09 99.55,314.40 100.13,314.71 100.71,315.01 101.29,315.31 101.88,315.60 102.46,315.89 103.04,316.17 103.63,316.45 104.21,316.73 104.79,317.00 105.37,317.27 105.96,317.53 106.54,317.79 107.12,318.04 107.70,318.29 108.29,318.54 108.87,318.78 109.45,319.02 110.03,319.26 110.62,319.49 111.20,319.72 111.78,319.95 112.36,320.17 112.95,320.39 113.53,320.60 114.11,320.81 114.69,321.02 115.28,321.22 115.86,321.43 116.44,321.63 117.02,321.82 117.61,322.01 118.19,322.20 118.77,322.39 119.35,322.57 119.94,322.76 120.52,322.93 121.10,323.11 121.68,323.28 122.27,323.45 122.85,323.62 123.43,323.78 124.02,323.95 124.60,324.11 125.18,324.26 125.76,324.42 126.35,324.57 126.93,324.72 127.51,324.87 128.09,325.02 128.68,325.16 129.26,325.30 129.84,325.44 130.42,325.58 131.01,325.71 131.59,325.84 132.17,325.98 132.75,326.10 133.34,326.23 133.92,326.36 134.50,326.48 135.08,326.60 135.67,326.72 136.25,326.84 136.83,326.95 137.41,327.07 138.00,327.18 138.58,327.29 139.16,327.40 139.74,327.50 140.33,327.61 140.91,327.71 141.49,327.81 142.07,327.91 142.66,328.01 143.24,328.11 143.82,328.21 144.40,328.30 144.99,328.39 145.57,328.49 146.15,328.58 146.74,328.66 147.32,328.75 147.90,328.84 148.48,328.92 149.07,329.01 149.65,329.09 150.23,329.17 150.81,329.25 151.40,329.33 151.98,329.40 152.56,329.48 153.14,329.55 153.73,329.63 154.31,329.70 154.89,329.77 155.47,329.84 156.06,329.91 156.64,329.98 157.22,330.05 157.80,330.11 158.39,330.18 158.97,330.24 159.55,330.31 160.13,330.37 160.72,330.43 161.30,330.49 161.88,330.55 162.46,330.61 163.05,330.66 163.63,330.72 164.21,330.78 164.79,330.83 165.38,330.89 165.96,330.94 166.54,330.99 167.12,331.04 167.71,331.09 168.29,331.14 168.87,331.19 169.46,331.24 170.04,331.29 170.62,331.34 171.20,331.38 171.79,331.43 172.37,331.47 172.95,331.52 173.53,331.56 174.12,331.60 174.70,331.65 175.28,331.69 175.86,331.73 176.45,331.77 177.03,331.81 177.61,331.85 178.19,331.89 178.78,331.92 179.36,331.96 179.94,332.00 180.52,332.03 181.11,332.07 181.69,332.10 182.27,332.14 182.85,332.17 183.44,332.21 184.02,332.24 184.60,332.27 185.18,332.30 185.77,332.34 186.35,332.37 186.93,332.40 187.51,332.43 188.10,332.46 188.68,332.49 189.26,332.51 189.84,332.54 190.43,332.57 191.01,332.60 191.59,332.62 192.18,332.65 192.76,332.68 193.34,332.70 193.92,332.73 194.51,332.75 195.09,332.78 195.67,332.80 196.25,332.83 196.84,332.85 197.42,332.87 198.00,332.89 198.58,332.92 199.17,332.94 199.75,332.96 200.33,332.98 200.91,333.00 201.50,333.02 202.08,333.04 202.66,333.06 203.24,333.08 203.83,333.10 204.41,333.12 204.99,333.14 205.57,333.16 206.16,333.18 206.74,333.20 207.32,333.21 207.90,333.23 208.49,333.25 209.07,333.27 209.65,333.28 210.23,333.30 210.82,333.31 211.40,333.33 211.98,333.35 212.56,333.36 213.15,333.38 213.73,333.39 214.31,333.41 214.90,333.42 215.48,333.44 216.06,333.45 216.64,333.46 217.23,333.48 217.81,333.49 218.39,333.50 218.97,333.52 219.56,333.53 220.14,333.54 220.72,333.55 221.30,333.57 221.89,333.58 222.47,333.59 223.05,333.60 223.63,333.61 224.22,333.63 224.80,333.64 225.38,333.65 225.96,333.66 226.55,333.67 227.13,333.68 227.71,333.69 228.29,333.70 228.88,333.71 229.46,333.72 230.04,333.73 230.62,333.74 231.21,333.75 231.79,333.76 232.37,333.77 232.95,333.78 233.54,333.78 234.12,333.79 234.70,333.80 235.28,333.81 235.87,333.82 236.45,333.83 237.03,333.83 237.62,333.84 238.20,333.85 238.78,333.86 239.36,333.87 239.95,333.87 240.53,333.88 241.11,333.89 241.69,333.89 242.28,333.90 242.86,333.91 243.44,333.92 244.02,333.92 244.61,333.93 245.19,333.93 245.77,333.94 246.35,333.95 246.94,333.95 247.52,333.96 248.10,333.97 248.68,333.97 249.27,333.98 249.85,333.98 250.43,333.99 251.01,333.99 251.60,334.00 252.18,334.01 252.76,334.01 253.34,334.02 253.93,334.02 254.51,334.03 255.09,334.03 255.67,334.04 256.26,334.04 256.84,334.05 257.42,334.05 258.01,334.05 258.59,334.06 259.17,334.06 259.75,334.07 260.34,334.07 260.92,334.08 261.50,334.08 262.08,334.09 262.67,334.09 263.25,334.09 263.83,334.10 264.41,334.10 265.00,334.10 265.58,334.11 266.16,334.11 266.74,334.12 267.33,334.12 267.91,334.12 268.49,334.13 269.07,334.13 269.66,334.13 270.24,334.14 270.82,334.14 271.40,334.14 271.99,334.15 272.57,334.15 273.15,334.15 273.73,334.16 274.32,334.16 274.90,334.16 275.48,334.16 276.06,334.17 276.65,334.17 277.23,334.17 277.81,334.18 278.39,334.18 278.98,334.18 279.56,334.18 280.14,334.19 280.73,334.19 281.31,334.19 281.89,334.19 282.47,334.20 283.06,334.20 283.64,334.20 284.22,334.20 284.80,334.21 285.39,334.21 285.97,334.21 286.55,334.21 287.13,334.21 287.72,334.22 288.30,334.22 288.88,334.22 289.46,334.22 290.05,334.22 290.63,334.23 291.21,334.23 291.79,334.23 292.38,334.23 292.96,334.23 293.54,334.24 294.12,334.24 294.71,334.24 295.29,334.24 295.87,334.24 296.45,334.24 297.04,334.25 297.62,334.25 298.20,334.25 298.78,334.25 299.37,334.25 299.95,334.25 300.53,334.25 301.11,334.26 301.70,334.26 302.28,334.26 302.86,334.26 303.45,334.26 304.03,334.26 304.61,334.26 305.19,334.27 305.78,334.27 306.36,334.27 306.94,334.27 307.52,334.27 308.11,334.27 308.69,334.27 309.27,334.27 309.85,334.28 310.44,334.28 311.02,334.28 311.60,334.28 312.18,334.28 312.77,334.28 313.35,334.28 313.93,334.28 314.51,334.28 315.10,334.29 315.68,334.29 316.26,334.29 316.84,334.29 317.43,334.29 318.01,334.29 318.59,334.29 319.17,334.29 319.76,334.29 320.34,334.29 320.92,334.29 321.50,334.30 322.09,334.30 322.67,334.30 323.25,334.30 323.83,334.30 324.42,334.30 325.00,334.30" fill="none" stroke="#000000" stroke-width="1.5" stroke-linejoin="round" stroke-linecap="round"/><polyline points="34.30,206.42 34.88,208.25 35.47,210.05 36.05,211.83 36.63,213.58 37.21,215.31 37.80,217.01 38.38,218.68 38.96,220.33 39.54,221.95 40.13,223.54 40.71,225.11 41.29,226.66 41.87,228.18 42.46,229.67 43.04,231.15 43.62,232.59 44.20,234.02 44.79,235.42 45.37,236.80 45.95,238.16 46.53,239.49 47.12,240.81 47.70,242.10 48.28,243.37 48.86,244.63 49.45,245.86 50.03,247.07 50.61,248.26 51.19,249.44 51.78,250.59 52.36,251.73 52.94,252.85 53.52,253.95 54.11,255.04 54.69,256.10 55.27,257.16 55.85,258.19 56.44,259.21 57.02,260.21 57.60,261.20 58.19,262.18 58.77,263.14 59.35,264.08 59.93,265.01 60.52,265.93 61.10,266.83 61.68,267.72 62.26,268.59 62.85,269.46 63.43,270.31 64.01,271.15 64.59,271.97 65.18,272.79 65.76,273.59 66.34,274.38 66.92,275.16 67.51,275.93 68.09,276.68 68.67,277.43 69.25,278.16 69.84,278.89 70.42,279.60 71.00,280.31 71.58,281.00 72.17,281.69 72.75,282.36 73.33,283.03 73.91,283.69 74.50,284.34 75.08,284.97 75.66,285.60 76.24,286.23 76.83,286.84 77.41,287.44 77.99,288.04 78.57,288.63 79.16,289.21 79.74,289.78 80.32,290.35 80.91,290.90 81.49,291.45 82.07,292.00 82.65,292.53 83.24,293.06 83.82,293.58 84.40,294.09 84.98,294.60 85.57,295.10 86.15,295.60 86.73,296.08 87.31,296.56 87.90,297.04 88.48,297.51 89.06,297.97 89.64,298.43 90.23,298.88 90.81,299.32 91.39,299.76 91.97,300.19 92.56,300.62 93.14,301.04 93.72,301.46 94.30,301.87 94.89,302.27 95.47,302.67 96.05,303.07 96.63,303.46 97.22,303.84 97.80,304.22 98.38,304.60 98.96,304.97 99.55,305.34 100.13,305.70 100.71,306.05 101.29,306.41 101.88,306.75 102.46,307.10 103.04,307.43 103.63,307.77 104.21,308.10 104.79,308.42 105.37,308.75 105.96,309.06 106.54,309.38 107.12,309.69 107.70,309.99 108.29,310.30 108.87,310.59 109.45,310.89 110.03,311.18 110.62,311.47 111.20,311.75 111.78,312.03 112.36,312.30 112.95,312.58 113.53,312.85 114.11,313.11 114.69,313.38 115.28,313.63 115.86,313.89 116.44,314.14 117.02,314.39 117.61,314.64 118.19,314.88 118.77,315.12 119.35,315.36 119.94,315.60 120.52,315.83 121.10,316.06 121.68,316.28 122.27,316.51 122.85,316.73 123.43,316.94 124.02,317.16 124.60,317.37 125.18,317.58 125.76,317.79 126.35,317.99 126.93,318.19 127.51,318.39 128.09,318.59 128.68,318.78 129.26,318.97 129.84,319.16 130.42,319.35 131.01,319.54 131.59,319.72 132.17,319.90 132.75,320.08 133.34,320.25 133.92,320.43 134.50,320.60 135.08,320.77 135.67,320.94 136.25,321.10 136.83,321.26 137.41,321.42 138.00,321.58 138.58,321.74 139.16,321.90 139.74,322.05 140.33,322.20 140.91,322.35 141.49,322.50 142.07,322.64 142.66,322.79 143.24,322.93 143.82,323.07 144.40,323.21 144.99,323.35 145.57,323.48 146.15,323.62 146.74,323.75 147.32,323.88 147.90,324.01 148.48,324.14 149.07,324.26 149.65,324.39 150.23,324.51 150.81,324.63 151.40,324.75 151.98,324.87 152.56,324.98 153.14,325.10 153.73,325.21 154.31,325.32 154.89,325.44 155.47,325.55 156.06,325.65 156.64,325.76 157.22,325.87 157.80,325.97 158.39,326.07 158.97,326.18 159.55,326.28 160.13,326.38 160.72,326.47 161.30,326.57 161.88,326.67 162.46,326.76 163.05,326.85 163.63,326.95 164.21,327.04 164.79,327.13 165.38,327.22 165.96,327.30 166.54,327.39 167.12,327.48 167.71,327.56 168.29,327.64 168.87,327.73 169.46,327.81 170.04,327.89 170.62,327.97 171.20,328.05 171.79,328.12 172.37,328.20 172.95,328.28 173.53,328.35 174.12,328.42 174.70,328.50 175.28,328.57 175.86,328.64 176.45,328.71 177.03,328.78 177.61,328.85 178.19,328.92 178.78,328.98 179.36,329.05 179.94,329.11 180.52,329.18 181.11,329.24 181.69,329.30 182.27,329.37 182.85,329.43 183.44,329.49 184.02,329.55 184.60,329.61 185.18,329.67 185.77,329.72 186.35,329.78 186.93,329.84 187.51,329.89 188.10,329.95 188.68,330.00 189.26,330.05 189.84,330.11 190.43,330.16 191.01,330.21 191.59,330.26 192.18,330.31 192.76,330.36 193.34,330.41 193.92,330.46 194.51,330.51 195.09,330.55 195.67,330.60 196.25,330.65 196.84,330.69 197.42,330.74 198.00,330.78 198.58,330.82 199.17,330.87 199.75,330.91 200.33,330.95 200.91,331.00 201.50,331.04 202.08,331.08 202.66,331.12 203.24,331.16 203.83,331.20 204.41,331.24 204.99,331.27 205.57,331.31 206.16,331.35 206.74,331.39 207.32,331.42 207.90,331.46 208.49,331.49 209.07,331.53 209.65,331.56 210.23,331.60 210.82,331.63 211.40,331.66 211.98,331.70 212.56,331.73 213.15,331.76 213.73,331.79 214.31,331.83 214.90,331.86 215.48,331.89 216.06,331.92 216.64,331.95 217.23,331.98 217.81,332.01 218.39,332.03 218.97,332.06 219.56,332.09 220.14,332.12 220.72,332.15 221.30,332.17 221.89,332.20 222.47,332.23 223.05,332.25 223.63,332.28 224.22,332.30 224.80,332.33 225.38,332.35 225.96,332.38 226.55,332.40 227.13,332.43 227.71,332.45 228.29,332.47 228.88,332.50 229.46,332.52 230.04,332.54 230.62,332.56 231.21,332.59 231.79,332.61 232.37,332.63 232.95,332.65 233.54,332.67 234.12,332.69 234.70,332.71 235.28,332.73 235.87,332.75 236.45,332.77 237.03,332.79 237.62,332.81 238.20,332.83 238.78,332.85 239.36,332.87 239.95,332.88 240.53,332.90 241.11,332.92 241.69,332.94 242.28,332.96 242.86,332.97 243.44,332.99 244.02,333.01 244.61,333.02 245.19,333.04 245.77,333.06 246.35,333.07 246.94,333.09 247.52,333.10 248.10,333.12 248.68,333.13 249.27,333.15 249.85,333.16 250.43,333.18 251.01,333.19 251.60,333.21 252.18,333.22 252.76,333.23 253.34,333.25 253.93,333.26 254.51,333.27 255.09,333.29 255.67,333.30 256.26,333.31 256.84,333.33 257.42,333.34 258.01,333.35 258.59,333.36 259.17,333.38 259.75,333.39 260.34,333.40 260.92,333.41 261.50,333.42 262.08,333.43 262.67,333.45 263.25,333.46 263.83,333.47 264.41,333.48 265.00,333.49 265.58,333.50 266.16,333.51 266.74,333.52 267.33,333.53 267.91,333.54 268.49,333.55 269.07,333.56 269.66,333.57 270.24,333.58 270.82,333.59 271.40,333.60 271.99,333.61 272.57,333.62 273.15,333.63 273.73,333.63 274.32,333.64 274.90,333.65 275.48,333.66 276.06,333.67 276.65,333.68 277.23,333.69 277.81,333.69 278.39,333.70 278.98,333.71 279.56,333.72 280.14,333.73 280.73,333.73 281.31,333.74 281.89,333.75 282.47,333.76 283.06,333.76 283.64,333.77 284.22,333.78 284.80,333.78 285.39,333.79 285.97,333.80 286.55,333.81 287.13,333.81 287.72,333.82 288.30,333.82 288.88,333.83 289.46,333.84 290.05,333.84 290.63,333.85 291.21,333.86 291.79,333.86 292.38,333.87 292.96,333.87 293.54,333.88 294.12,333.89 294.71,333.89 295.29,333.90 295.87,333.90 296.45,333.91 297.04,333.91 297.62,333.92 298.20,333.92 298.78,333.93 299.37,333.93 299.95,333.94 300.53,333.95 301.11,333.95 301.70,333.95 302.28,333.96 302.86,333.96 303.45,333.97 304.03,333.97 304.61,333.98 305.19,333.98 305.78,333.99 306.36,333.99 306.94,334.00 307.52,334.00 308.11,334.01 308.69,334.01 309.27,334.01 309.85,334.02 310.44,334.02 311.02,334.03 311.60,334.03 312.18,334.03 312.77,334.04 313.35,334.04 313.93,334.05 314.51,334.05 315.10,334.05 315.68,334.06 316.26,334.06 316.84,334.06 317.43,334.07 318.01,334.07 318.59,334.07 319.17,334.08 319.76,334.08 320.34,334.08 320.92,334.09 321.50,334.09 322.09,334.09 322.67,334.10 323.25,334.10 323.83,334.10 324.42,334.11 325.00,334.11" fill="none" stroke="#0000ff" stroke-width="1.5" stroke-linejoin="round" stroke-linecap="round"/><polyline points="34.30,198.34 34.88,200.33 35.47,202.28 36.05,204.18 36.63,206.05 37.21,207.88 37.80,209.68 38.38,211.43 38.96,213.16 39.54,214.84 40.13,216.50 40.71,218.13 41.29,219.72 41.87,221.29 42.46,222.82 43.04,224.33 43.62,225.81 44.20,227.27 44.79,228.69 45.37,230.10 45.95,231.48 46.53,232.83 47.12,234.17 47.70,235.48 48.28,236.77 48.86,238.04 49.45,239.28 50.03,240.51 50.61,241.72 51.19,242.91 51.78,244.08 52.36,245.23 52.94,246.36 53.52,247.48 54.11,248.58 54.69,249.66 55.27,250.73 55.85,251.78 56.44,252.82 57.02,253.84 57.60,254.84 58.19,255.83 58.77,256.81 59.35,257.77 59.93,258.72 60.52,259.65 61.10,260.58 61.68,261.49 62.26,262.38 62.85,263.27 63.43,264.14 64.01,265.00 64.59,265.85 65.18,266.69 65.76,267.51 66.34,268.33 66.92,269.13 67.51,269.92 68.09,270.71 68.67,271.48 69.25,272.24 69.84,272.99 70.42,273.74 71.00,274.47 71.58,275.19 72.17,275.91 72.75,276.61 73.33,277.31 73.91,277.99 74.50,278.67 75.08,279.34 75.66,280.00 76.24,280.65 76.83,281.30 77.41,281.93 77.99,282.56 78.57,283.18 79.16,283.80 79.74,284.40 80.32,285.00 80.91,285.59 81.49,286.17 82.07,286.75 82.65,287.31 83.24,287.87 83.82,288.43 84.40,288.98 84.98,289.52 85.57,290.05 86.15,290.58 86.73,291.10 87.31,291.61 87.90,292.12 88.48,292.63 89.06,293.12 89.64,293.61 90.23,294.10 90.81,294.57 91.39,295.05 91.97,295.51 92.56,295.97 93.14,296.43 93.72,296.88 94.30,297.32 94.89,297.76 95.47,298.20 96.05,298.63 96.63,299.05 97.22,299.47 97.80,299.88 98.38,300.29 98.96,300.69 99.55,301.09 100.13,301.49 100.71,301.87 101.29,302.26 101.88,302.64 102.46,303.01 103.04,303.39 103.63,303.75 104.21,304.11 104.79,304.47 105.37,304.83 105.96,305.17 106.54,305.52 107.12,305.86 107.70,306.20 108.29,306.53 108.87,306.86 109.45,307.18 110.03,307.51 110.62,307.82 111.20,308.14 111.78,308.45 112.36,308.75 112.95,309.06 113.53,309.35 114.11,309.65 114.69,309.94 115.28,310.23 115.86,310.52 116.44,310.80 117.02,311.08 117.61,311.35 118.19,311.62 118.77,311.89 119.35,312.16 119.94,312.42 120.52,312.68 121.10,312.93 121.68,313.19 122.27,313.44 122.85,313.68 123.43,313.93 124.02,314.17 124.60,314.41 125.18,314.64 125.76,314.87 126.35,315.10 126.93,315.33 127.51,315.56 128.09,315.78 128.68,316.00 129.26,316.21 129.84,316.43 130.42,316.64 131.01,316.85 131.59,317.06 132.17,317.26 132.75,317.46 133.34,317.66 133.92,317.86 134.50,318.05 135.08,318.25 135.67,318.44 136.25,318.62 136.83,318.81 137.41,318.99 138.00,319.17 138.58,319.35 139.16,319.53 139.74,319.70 140.33,319.88 140.91,320.05 141.49,320.22 142.07,320.38 142.66,320.55 143.24,320.71 143.82,320.87 144.40,321.03 144.99,321.19 145.57,321.34 146.15,321.50 146.74,321.65 147.32,321.80 147.90,321.95 148.48,322.09 149.07,322.24 149.65,322.38 150.23,322.52 150.81,322.66 151.40,322.80 151.98,322.94 152.56,323.07 153.14,323.20 153.73,323.34 154.31,323.47 154.89,323.59 155.47,323.72 156.06,323.85 156.64,323.97 157.22,324.09 157.80,324.21 158.39,324.33 158.97,324.45 159.55,324.57 160.13,324.68 160.72,324.80 161.30,324.91 161.88,325.02 162.46,325.13 163.05,325.24 163.63,325.35 164.21,325.45 164.79,325.56 165.38,325.66 165.96,325.77 166.54,325.87 167.12,325.97 167.71,326.07 168.29,326.16 168.87,326.26 169.46,326.36 170.04,326.45 170.62,326.54 171.20,326.64 171.79,326.73 172.37,326.82 172.95,326.91 173.53,326.99 174.12,327.08 174.70,327.17 175.28,327.25 175.86,327.33 176.45,327.42 177.03,327.50 177.61,327.58 178.19,327.66 178.78,327.74 179.36,327.82 179.94,327.89 180.52,327.97 181.11,328.05 181.69,328.12 182.27,328.19 182.85,328.27 183.44,328.34 184.02,328.41 184.60,328.48 185.18,328.55 185.77,328.62 186.35,328.68 186.93,328.75 187.51,328.82 188.10,328.88 188.68,328.95 189.26,329.01 189.84,329.07 190.43,329.14 191.01,329.20 191.59,329.26 192.18,329.32 192.76,329.38 193.34,329.44 193.92,329.49 194.51,329.55 195.09,329.61 195.67,329.66 196.25,329.72 196.84,329.77 197.42,329.83 198.00,329.88 198.58,329.93 199.17,329.99 199.75,330.04 200.33,330.09 200.91,330.14 201.50,330.19 202.08,330.24 202.66,330.29 203.24,330.33 203.83,330.38 204.41,330.43 204.99,330.48 205.57,330.52 206.16,330.57 206.74,330.61 207.32,330.65 207.90,330.70 208.49,330.74 209.07,330.78 209.65,330.83 210.23,330.87 210.82,330.91 211.40,330.95 211.98,330.99 212.56,331.03 213.15,331.07 213.73,331.11 214.31,331.15 214.90,331.18 215.48,331.22 216.06,331.26 216.64,331.29 217.23,331.33 217.81,331.37 218.39,331.40 218.97,331.44 219.56,331.47 220.14,331.50 220.72,331.54 221.30,331.57 221.89,331.60 222.47,331.64 223.05,331.67 223.63,331.70 224.22,331.73 224.80,331.76 225.38,331.79 225.96,331.82 226.55,331.85 227.13,331.88 227.71,331.91 228.29,331.94 228.88,331.97 229.46,332.00 230.04,332.02 230.62,332.05 231.21,332.08 231.79,332.11 232.37,332.13 232.95,332.16 233.54,332.18 234.12,332.21 234.70,332.23 235.28,332.26 235.87,332.28 236.45,332.31 237.03,332.33 237.62,332.36 238.20,332.38 238.78,332.40 239.36,332.43 239.95,332.45 240.53,332.47 241.11,332.49 241.69,332.52 242.28,332.54 242.86,332.56 243.44,332.58 244.02,332.60 244.61,332.62 245.19,332.64 245.77,332.66 246.35,332.68 246.94,332.70 247.52,332.72 248.10,332.74 248.68,332.76 249.27,332.78 249.85,332.80 250.43,332.81 251.01,332.83 251.60,332.85 252.18,332.87 252.76,332.89 253.34,332.90 253.93,332.92 254.51,332.94 255.09,332.95 255.67,332.97 256.26,332.99 256.84,333.00 257.42,333.02 258.01,333.03 258.59,333.05 259.17,333.07 259.75,333.08 260.34,333.10 260.92,333.11 261.50,333.12 262.08,333.14 262.67,333.15 263.25,333.17 263.83,333.18 264.41,333.20 265.00,333.21 265.58,333.22 266.16,333.24 266.74,333.25 267.33,333.26 267.91,333.27 268.49,333.29 269.07,333.30 269.66,333.31 270.24,333.32 270.82,333.34 271.40,333.35 271.99,333.36 272.57,333.37 273.15,333.38 273.73,333.40 274.32,333.41 274.90,333.42 275.48,333.43 276.06,333.44 276.65,333.45 277.23,333.46 277.81,333.47 278.39,333.48 278.98,333.49 279.56,333.50 280.14,333.51 280.73,333.52 281.31,333.53 281.89,333.54 282.47,333.55 283.06,333.56 283.64,333.57 284.22,333.58 284.80,333.59 285.39,333.60 285.97,333.61 286.55,333.61 287.13,333.62 287.72,333.63 288.30,333.64 288.88,333.65 289.46,333.66 290.05,333.67 290.63,333.67 291.21,333.68 291.79,333.69 292.38,333.70 292.96,333.70 293.54,333.71 294.12,333.72 294.71,333.73 295.29,333.73 295.87,333.74 296.45,333.75 297.04,333.76 297.62,333.76 298.20,333.77 298.78,333.78 299.37,333.78 299.95,333.79 300.53,333.80 301.11,333.80 301.70,333.81 302.28,333.82 302.86,333.82 303.45,333.83 304.03,333.83 304.61,333.84 305.19,333.85 305.78,333.85 306.36,333.86 306.94,333.86 307.52,333.87 308.11,333.88 308.69,333.88 309.27,333.89 309.85,333.89 310.44,333.90 311.02,333.90 311.60,333.91 312.18,333.91 312.77,333.92 313.35,333.92 313.93,333.93 314.51,333.93 315.10,333.94 315.68,333.94 316.26,333.95 316.84,333.95 317.43,333.96 318.01,333.96 318.59,333.97 319.17,333.97 319.76,333.98 320.34,333.98 320.92,333.98 321.50,333.99 322.09,333.99 322.67,334.00 323.25,334.00 323.83,334.01 324.42,334.01 325.00,334.01" fill="none" stroke="#ff0000" stroke-width="1.5" stroke-linejoin="round" stroke-linecap="round"/></g><text x="34.30" y="346.85" text-anchor="middle" class="t">0</text><text x="63.37" y="346.85" text-anchor="middle" class="t">0.1</text><text x="92.44" y="346.85" text-anchor="middle" class="t">0.2</text><text x="121.51" y="346.85" text-anchor="middle" class="t">0.3</text><text x="150.58" y="346.85" text-anchor="middle" class="t">0.4</text><text x="179.65" y="346.85" text-anchor="middle" class="t">0.5</text><text x="208.72" y="346.85" text-anchor="middle" class="t">0.6</text><text x="237.79" y="346.85" text-anchor="middle" class="t">0.7</text><text x="266.86" y="346.85" text-anchor="middle" class="t">0.8</text><text x="295.93" y="346.85" text-anchor="middle" class="t">0.9</text><text x="325.00" y="346.85" text-anchor="middle" class="t">1</text><text x="30.20" y="337.65" text-anchor="end" class="t">0</text><text x="30.20" y="292.32" text-anchor="end" class="t">5</text><text x="30.20" y="246.98" text-anchor="end" class="t">10</text><text x="30.20" y="201.65" text-anchor="end" class="t">15</text><rect x="254.3" y="205.5" width="63.50" height="33.10" fill="#fff" stroke="#7a7a7a" stroke-width="0.8"/><line x1="256.90" y1="211.70" x2="280.30" y2="211.70" stroke="#000000" stroke-width="1.5"/><text x="282.50" y="215.10" class="lg">Model I</text><line x1="256.90" y1="221.80" x2="280.30" y2="221.80" stroke="#0000ff" stroke-width="1.5"/><text x="282.50" y="225.20" class="lg">Model II</text><line x1="256.90" y1="231.90" x2="280.30" y2="231.90" stroke="#ff0000" stroke-width="1.5"/><text x="282.50" y="235.30" class="lg">Model III</text><line x1="391.5" y1="198.35" x2="682.8" y2="198.35" stroke="#e6e6e6" stroke-width="1"/><line x1="391.5" y1="334.4" x2="682.8" y2="334.4" stroke="#8a8a8a" stroke-width="1"/><line x1="391.5" y1="198.35" x2="391.5" y2="334.4" stroke="#5a5a5a" stroke-width="1"/><line x1="682.8" y1="198.35" x2="682.8" y2="334.4" stroke="#eeeeee" stroke-width="1"/><path d="M440.05 334.4v-2.8M440.05 198.35v2.8M488.60 334.4v-2.8M488.60 198.35v2.8M537.15 334.4v-2.8M537.15 198.35v2.8M585.70 334.4v-2.8M585.70 198.35v2.8M634.25 334.4v-2.8M634.25 198.35v2.8M391.5 300.39h2.8M682.8 300.39h-2.8M391.5 266.38h2.8M682.8 266.38h-2.8M391.5 232.36h2.8M682.8 232.36h-2.8" stroke="#6a6a6a" stroke-width="0.8" fill="none"/><g clip-path="url(#clipd)"><polyline points="391.50,246.65 392.08,250.77 392.67,254.70 393.25,258.44 393.84,262.01 394.42,265.40 395.00,268.64 395.59,271.73 396.17,274.68 396.75,277.48 397.34,280.15 397.92,282.70 398.51,285.13 399.09,287.44 399.67,289.65 400.26,291.75 400.84,293.75 401.42,295.66 402.01,297.48 402.59,299.21 403.18,300.86 403.76,302.44 404.34,303.94 404.93,305.37 405.51,306.73 406.09,308.03 406.68,309.27 407.26,310.45 407.85,311.58 408.43,312.65 409.01,313.67 409.60,314.64 410.18,315.57 410.76,316.45 411.35,317.30 411.93,318.10 412.52,318.87 413.10,319.60 413.68,320.29 414.27,320.95 414.85,321.58 415.43,322.19 416.02,322.76 416.60,323.31 417.19,323.83 417.77,324.32 418.35,324.80 418.94,325.25 419.52,325.68 420.10,326.09 420.69,326.48 421.27,326.85 421.86,327.20 422.44,327.54 423.02,327.86 423.61,328.17 424.19,328.46 424.77,328.74 425.36,329.01 425.94,329.26 426.53,329.50 427.11,329.73 427.69,329.95 428.28,330.16 428.86,330.36 429.44,330.55 430.03,330.73 430.61,330.90 431.20,331.07 431.78,331.22 432.36,331.37 432.95,331.51 433.53,331.65 434.12,331.78 434.70,331.90 435.28,332.02 435.87,332.13 436.45,332.24 437.03,332.34 437.62,332.44 438.20,332.53 438.79,332.62 439.37,332.70 439.95,332.78 440.54,332.86 441.12,332.93 441.70,333.00 442.29,333.06 442.87,333.13 443.46,333.19 444.04,333.24 444.62,333.30 445.21,333.35 445.79,333.40 446.37,333.45 446.96,333.49 447.54,333.53 448.13,333.57 448.71,333.61 449.29,333.65 449.88,333.68 450.46,333.72 451.04,333.75 451.63,333.78 452.21,333.81 452.80,333.84 453.38,333.86 453.96,333.89 454.55,333.91 455.13,333.94 455.71,333.96 456.30,333.98 456.88,334.00 457.47,334.02 458.05,334.04 458.63,334.05 459.22,334.07 459.80,334.08 460.38,334.10 460.97,334.11 461.55,334.13 462.14,334.14 462.72,334.15 463.30,334.16 463.89,334.17 464.47,334.19 465.05,334.20 465.64,334.20 466.22,334.21 466.81,334.22 467.39,334.23 467.97,334.24 468.56,334.25 469.14,334.25 469.72,334.26 470.31,334.27 470.89,334.27 471.48,334.28 472.06,334.28 472.64,334.29 473.23,334.30 473.81,334.30 474.39,334.31 474.98,334.31 475.56,334.31 476.15,334.32 476.73,334.32 477.31,334.33 477.90,334.33 478.48,334.33 479.07,334.34 479.65,334.34 480.23,334.34 480.82,334.34 481.40,334.35 481.98,334.35 482.57,334.35 483.15,334.35 483.74,334.36 484.32,334.36 484.90,334.36 485.49,334.36 486.07,334.36 486.65,334.37 487.24,334.37 487.82,334.37 488.41,334.37 488.99,334.37 489.57,334.37 490.16,334.37 490.74,334.38 491.32,334.38 491.91,334.38 492.49,334.38 493.08,334.38 493.66,334.38 494.24,334.38 494.83,334.38 495.41,334.38 495.99,334.38 496.58,334.38 497.16,334.39 497.75,334.39 498.33,334.39 498.91,334.39 499.50,334.39 500.08,334.39 500.66,334.39 501.25,334.39 501.83,334.39 502.42,334.39 503.00,334.39 503.58,334.39 504.17,334.39 504.75,334.39 505.33,334.39 505.92,334.39 506.50,334.39 507.09,334.39 507.67,334.39 508.25,334.39 508.84,334.39 509.42,334.39 510.00,334.39 510.59,334.40 511.17,334.40 511.76,334.40 512.34,334.40 512.92,334.40 513.51,334.40 514.09,334.40 514.67,334.40 515.26,334.40 515.84,334.40 516.43,334.40 517.01,334.40 517.59,334.40 518.18,334.40 518.76,334.40 519.35,334.40 519.93,334.40 520.51,334.40 521.10,334.40 521.68,334.40 522.26,334.40 522.85,334.40 523.43,334.40 524.02,334.40 524.60,334.40 525.18,334.40 525.77,334.40 526.35,334.40 526.93,334.40 527.52,334.40 528.10,334.40 528.69,334.40 529.27,334.40 529.85,334.40 530.44,334.40 531.02,334.40 531.60,334.40 532.19,334.40 532.77,334.40 533.36,334.40 533.94,334.40 534.52,334.40 535.11,334.40 535.69,334.40 536.27,334.40 536.86,334.40 537.44,334.40 538.03,334.40 538.61,334.40 539.19,334.40 539.78,334.40 540.36,334.40 540.94,334.40 541.53,334.40 542.11,334.40 542.70,334.40 543.28,334.40 543.86,334.40 544.45,334.40 545.03,334.40 545.61,334.40 546.20,334.40 546.78,334.40 547.37,334.40 547.95,334.40 548.53,334.40 549.12,334.40 549.70,334.40 550.28,334.40 550.87,334.40 551.45,334.40 552.04,334.40 552.62,334.40 553.20,334.40 553.79,334.40 554.37,334.40 554.95,334.40 555.54,334.40 556.12,334.40 556.71,334.40 557.29,334.40 557.87,334.40 558.46,334.40 559.04,334.40 559.63,334.40 560.21,334.40 560.79,334.40 561.38,334.40 561.96,334.40 562.54,334.40 563.13,334.40 563.71,334.40 564.30,334.40 564.88,334.40 565.46,334.40 566.05,334.40 566.63,334.40 567.21,334.40 567.80,334.40 568.38,334.40 568.97,334.40 569.55,334.40 570.13,334.40 570.72,334.40 571.30,334.40 571.88,334.40 572.47,334.40 573.05,334.40 573.64,334.40 574.22,334.40 574.80,334.40 575.39,334.40 575.97,334.40 576.55,334.40 577.14,334.40 577.72,334.40 578.31,334.40 578.89,334.40 579.47,334.40 580.06,334.40 580.64,334.40 581.22,334.40 581.81,334.40 582.39,334.40 582.98,334.40 583.56,334.40 584.14,334.40 584.73,334.40 585.31,334.40 585.89,334.40 586.48,334.40 587.06,334.40 587.65,334.40 588.23,334.40 588.81,334.40 589.40,334.40 589.98,334.40 590.56,334.40 591.15,334.40 591.73,334.40 592.32,334.40 592.90,334.40 593.48,334.40 594.07,334.40 594.65,334.40 595.23,334.40 595.82,334.40 596.40,334.40 596.99,334.40 597.57,334.40 598.15,334.40 598.74,334.40 599.32,334.40 599.91,334.40 600.49,334.40 601.07,334.40 601.66,334.40 602.24,334.40 602.82,334.40 603.41,334.40 603.99,334.40 604.58,334.40 605.16,334.40 605.74,334.40 606.33,334.40 606.91,334.40 607.49,334.40 608.08,334.40 608.66,334.40 609.25,334.40 609.83,334.40 610.41,334.40 611.00,334.40 611.58,334.40 612.16,334.40 612.75,334.40 613.33,334.40 613.92,334.40 614.50,334.40 615.08,334.40 615.67,334.40 616.25,334.40 616.83,334.40 617.42,334.40 618.00,334.40 618.59,334.40 619.17,334.40 619.75,334.40 620.34,334.40 620.92,334.40 621.50,334.40 622.09,334.40 622.67,334.40 623.26,334.40 623.84,334.40 624.42,334.40 625.01,334.40 625.59,334.40 626.17,334.40 626.76,334.40 627.34,334.40 627.93,334.40 628.51,334.40 629.09,334.40 629.68,334.40 630.26,334.40 630.84,334.40 631.43,334.40 632.01,334.40 632.60,334.40 633.18,334.40 633.76,334.40 634.35,334.40 634.93,334.40 635.51,334.40 636.10,334.40 636.68,334.40 637.27,334.40 637.85,334.40 638.43,334.40 639.02,334.40 639.60,334.40 640.18,334.40 640.77,334.40 641.35,334.40 641.94,334.40 642.52,334.40 643.10,334.40 643.69,334.40 644.27,334.40 644.86,334.40 645.44,334.40 646.02,334.40 646.61,334.40 647.19,334.40 647.77,334.40 648.36,334.40 648.94,334.40 649.53,334.40 650.11,334.40 650.69,334.40 651.28,334.40 651.86,334.40 652.44,334.40 653.03,334.40 653.61,334.40 654.20,334.40 654.78,334.40 655.36,334.40 655.95,334.40 656.53,334.40 657.11,334.40 657.70,334.40 658.28,334.40 658.87,334.40 659.45,334.40 660.03,334.40 660.62,334.40 661.20,334.40 661.78,334.40 662.37,334.40 662.95,334.40 663.54,334.40 664.12,334.40 664.70,334.40 665.29,334.40 665.87,334.40 666.45,334.40 667.04,334.40 667.62,334.40 668.21,334.40 668.79,334.40 669.37,334.40 669.96,334.40 670.54,334.40 671.12,334.40 671.71,334.40 672.29,334.40 672.88,334.40 673.46,334.40 674.04,334.40 674.63,334.40 675.21,334.40 675.79,334.40 676.38,334.40 676.96,334.40 677.55,334.40 678.13,334.40 678.71,334.40 679.30,334.40 679.88,334.40 680.46,334.40 681.05,334.40 681.63,334.40 682.22,334.40 682.80,334.40" fill="none" stroke="#000000" stroke-width="1.5" stroke-linejoin="round" stroke-linecap="round"/><polyline points="391.50,235.70 392.08,239.42 392.67,243.05 393.25,246.56 393.84,249.95 394.42,253.21 395.00,256.34 395.59,259.34 396.17,262.22 396.75,264.97 397.34,267.60 397.92,270.12 398.51,272.52 399.09,274.81 399.67,277.01 400.26,279.10 400.84,281.09 401.42,283.00 402.01,284.82 402.59,286.56 403.18,288.22 403.76,289.80 404.34,291.31 404.93,292.75 405.51,294.13 406.09,295.45 406.68,296.71 407.26,297.91 407.85,299.05 408.43,300.15 409.01,301.20 409.60,302.20 410.18,303.15 410.76,304.07 411.35,304.94 411.93,305.78 412.52,306.58 413.10,307.34 413.68,308.08 414.27,308.78 414.85,309.45 415.43,310.09 416.02,310.70 416.60,311.29 417.19,311.85 417.77,312.39 418.35,312.91 418.94,313.41 419.52,313.88 420.10,314.34 420.69,314.77 421.27,315.19 421.86,315.60 422.44,315.98 423.02,316.35 423.61,316.71 424.19,317.05 424.77,317.38 425.36,317.70 425.94,318.00 426.53,318.30 427.11,318.58 427.69,318.85 428.28,319.11 428.86,319.36 429.44,319.60 430.03,319.84 430.61,320.06 431.20,320.28 431.78,320.49 432.36,320.69 432.95,320.89 433.53,321.08 434.12,321.26 434.70,321.44 435.28,321.61 435.87,321.78 436.45,321.94 437.03,322.09 437.62,322.24 438.20,322.39 438.79,322.53 439.37,322.67 439.95,322.80 440.54,322.94 441.12,323.06 441.70,323.18 442.29,323.30 442.87,323.42 443.46,323.53 444.04,323.64 444.62,323.75 445.21,323.86 445.79,323.96 446.37,324.06 446.96,324.16 447.54,324.25 448.13,324.34 448.71,324.44 449.29,324.52 449.88,324.61 450.46,324.70 451.04,324.78 451.63,324.86 452.21,324.94 452.80,325.02 453.38,325.10 453.96,325.17 454.55,325.25 455.13,325.32 455.71,325.39 456.30,325.46 456.88,325.53 457.47,325.60 458.05,325.67 458.63,325.73 459.22,325.80 459.80,325.86 460.38,325.93 460.97,325.99 461.55,326.05 462.14,326.11 462.72,326.17 463.30,326.23 463.89,326.29 464.47,326.34 465.05,326.40 465.64,326.46 466.22,326.51 466.81,326.56 467.39,326.62 467.97,326.67 468.56,326.72 469.14,326.78 469.72,326.83 470.31,326.88 470.89,326.93 471.48,326.98 472.06,327.03 472.64,327.08 473.23,327.12 473.81,327.17 474.39,327.22 474.98,327.27 475.56,327.31 476.15,327.36 476.73,327.40 477.31,327.45 477.90,327.49 478.48,327.54 479.07,327.58 479.65,327.62 480.23,327.67 480.82,327.71 481.40,327.75 481.98,327.80 482.57,327.84 483.15,327.88 483.74,327.92 484.32,327.96 484.90,328.00 485.49,328.04 486.07,328.08 486.65,328.12 487.24,328.16 487.82,328.20 488.41,328.24 488.99,328.27 489.57,328.31 490.16,328.35 490.74,328.39 491.32,328.43 491.91,328.46 492.49,328.50 493.08,328.54 493.66,328.57 494.24,328.61 494.83,328.64 495.41,328.68 495.99,328.71 496.58,328.75 497.16,328.78 497.75,328.82 498.33,328.85 498.91,328.89 499.50,328.92 500.08,328.95 500.66,328.99 501.25,329.02 501.83,329.05 502.42,329.09 503.00,329.12 503.58,329.15 504.17,329.18 504.75,329.21 505.33,329.25 505.92,329.28 506.50,329.31 507.09,329.34 507.67,329.37 508.25,329.40 508.84,329.43 509.42,329.46 510.00,329.49 510.59,329.52 511.17,329.55 511.76,329.58 512.34,329.61 512.92,329.64 513.51,329.67 514.09,329.70 514.67,329.73 515.26,329.75 515.84,329.78 516.43,329.81 517.01,329.84 517.59,329.87 518.18,329.89 518.76,329.92 519.35,329.95 519.93,329.98 520.51,330.00 521.10,330.03 521.68,330.06 522.26,330.08 522.85,330.11 523.43,330.13 524.02,330.16 524.60,330.19 525.18,330.21 525.77,330.24 526.35,330.26 526.93,330.29 527.52,330.31 528.10,330.34 528.69,330.36 529.27,330.39 529.85,330.41 530.44,330.43 531.02,330.46 531.60,330.48 532.19,330.51 532.77,330.53 533.36,330.55 533.94,330.58 534.52,330.60 535.11,330.62 535.69,330.64 536.27,330.67 536.86,330.69 537.44,330.71 538.03,330.74 538.61,330.76 539.19,330.78 539.78,330.80 540.36,330.82 540.94,330.84 541.53,330.87 542.11,330.89 542.70,330.91 543.28,330.93 543.86,330.95 544.45,330.97 545.03,330.99 545.61,331.01 546.20,331.03 546.78,331.05 547.37,331.07 547.95,331.09 548.53,331.11 549.12,331.13 549.70,331.15 550.28,331.17 550.87,331.19 551.45,331.21 552.04,331.23 552.62,331.25 553.20,331.27 553.79,331.29 554.37,331.31 554.95,331.33 555.54,331.35 556.12,331.36 556.71,331.38 557.29,331.40 557.87,331.42 558.46,331.44 559.04,331.45 559.63,331.47 560.21,331.49 560.79,331.51 561.38,331.53 561.96,331.54 562.54,331.56 563.13,331.58 563.71,331.59 564.30,331.61 564.88,331.63 565.46,331.64 566.05,331.66 566.63,331.68 567.21,331.69 567.80,331.71 568.38,331.73 568.97,331.74 569.55,331.76 570.13,331.78 570.72,331.79 571.30,331.81 571.88,331.82 572.47,331.84 573.05,331.85 573.64,331.87 574.22,331.88 574.80,331.90 575.39,331.92 575.97,331.93 576.55,331.95 577.14,331.96 577.72,331.97 578.31,331.99 578.89,332.00 579.47,332.02 580.06,332.03 580.64,332.05 581.22,332.06 581.81,332.08 582.39,332.09 582.98,332.10 583.56,332.12 584.14,332.13 584.73,332.15 585.31,332.16 585.89,332.17 586.48,332.19 587.06,332.20 587.65,332.21 588.23,332.23 588.81,332.24 589.40,332.25 589.98,332.26 590.56,332.28 591.15,332.29 591.73,332.30 592.32,332.32 592.90,332.33 593.48,332.34 594.07,332.35 594.65,332.37 595.23,332.38 595.82,332.39 596.40,332.40 596.99,332.41 597.57,332.43 598.15,332.44 598.74,332.45 599.32,332.46 599.91,332.47 600.49,332.49 601.07,332.50 601.66,332.51 602.24,332.52 602.82,332.53 603.41,332.54 603.99,332.55 604.58,332.57 605.16,332.58 605.74,332.59 606.33,332.60 606.91,332.61 607.49,332.62 608.08,332.63 608.66,332.64 609.25,332.65 609.83,332.66 610.41,332.67 611.00,332.68 611.58,332.69 612.16,332.70 612.75,332.71 613.33,332.73 613.92,332.74 614.50,332.75 615.08,332.76 615.67,332.77 616.25,332.78 616.83,332.79 617.42,332.79 618.00,332.80 618.59,332.81 619.17,332.82 619.75,332.83 620.34,332.84 620.92,332.85 621.50,332.86 622.09,332.87 622.67,332.88 623.26,332.89 623.84,332.90 624.42,332.91 625.01,332.92 625.59,332.93 626.17,332.93 626.76,332.94 627.34,332.95 627.93,332.96 628.51,332.97 629.09,332.98 629.68,332.99 630.26,333.00 630.84,333.00 631.43,333.01 632.01,333.02 632.60,333.03 633.18,333.04 633.76,333.05 634.35,333.05 634.93,333.06 635.51,333.07 636.10,333.08 636.68,333.09 637.27,333.09 637.85,333.10 638.43,333.11 639.02,333.12 639.60,333.13 640.18,333.13 640.77,333.14 641.35,333.15 641.94,333.16 642.52,333.16 643.10,333.17 643.69,333.18 644.27,333.19 644.86,333.19 645.44,333.20 646.02,333.21 646.61,333.21 647.19,333.22 647.77,333.23 648.36,333.24 648.94,333.24 649.53,333.25 650.11,333.26 650.69,333.26 651.28,333.27 651.86,333.28 652.44,333.28 653.03,333.29 653.61,333.30 654.20,333.30 654.78,333.31 655.36,333.32 655.95,333.32 656.53,333.33 657.11,333.34 657.70,333.34 658.28,333.35 658.87,333.36 659.45,333.36 660.03,333.37 660.62,333.38 661.20,333.38 661.78,333.39 662.37,333.39 662.95,333.40 663.54,333.41 664.12,333.41 664.70,333.42 665.29,333.42 665.87,333.43 666.45,333.44 667.04,333.44 667.62,333.45 668.21,333.45 668.79,333.46 669.37,333.46 669.96,333.47 670.54,333.48 671.12,333.48 671.71,333.49 672.29,333.49 672.88,333.50 673.46,333.50 674.04,333.51 674.63,333.51 675.21,333.52 675.79,333.53 676.38,333.53 676.96,333.54 677.55,333.54 678.13,333.55 678.71,333.55 679.30,333.56 679.88,333.56 680.46,333.57 681.05,333.57 681.63,333.58 682.22,333.58 682.80,333.59" fill="none" stroke="#0000ff" stroke-width="1.5" stroke-linejoin="round" stroke-linecap="round"/><polyline points="391.50,228.79 392.08,232.46 392.67,236.05 393.25,239.54 393.84,242.92 394.42,246.18 395.00,249.32 395.59,252.33 396.17,255.22 396.75,257.99 397.34,260.64 397.92,263.17 398.51,265.59 399.09,267.91 399.67,270.12 400.26,272.23 400.84,274.25 401.42,276.18 402.01,278.02 402.59,279.78 403.18,281.46 403.76,283.07 404.34,284.60 404.93,286.07 405.51,287.47 406.09,288.81 406.68,290.09 407.26,291.32 407.85,292.49 408.43,293.61 409.01,294.68 409.60,295.70 410.18,296.68 410.76,297.62 411.35,298.52 411.93,299.38 412.52,300.21 413.10,301.00 413.68,301.76 414.27,302.48 414.85,303.18 415.43,303.85 416.02,304.49 416.60,305.10 417.19,305.69 417.77,306.26 418.35,306.80 418.94,307.32 419.52,307.83 420.10,308.31 420.69,308.78 421.27,309.22 421.86,309.65 422.44,310.07 423.02,310.47 423.61,310.85 424.19,311.22 424.77,311.58 425.36,311.92 425.94,312.26 426.53,312.58 427.11,312.89 427.69,313.19 428.28,313.48 428.86,313.76 429.44,314.03 430.03,314.29 430.61,314.54 431.20,314.79 431.78,315.03 432.36,315.26 432.95,315.48 433.53,315.70 434.12,315.91 434.70,316.12 435.28,316.32 435.87,316.51 436.45,316.70 437.03,316.89 437.62,317.06 438.20,317.24 438.79,317.41 439.37,317.57 439.95,317.74 440.54,317.89 441.12,318.05 441.70,318.20 442.29,318.35 442.87,318.49 443.46,318.63 444.04,318.77 444.62,318.90 445.21,319.04 445.79,319.17 446.37,319.29 446.96,319.42 447.54,319.54 448.13,319.66 448.71,319.78 449.29,319.89 449.88,320.01 450.46,320.12 451.04,320.23 451.63,320.33 452.21,320.44 452.80,320.55 453.38,320.65 453.96,320.75 454.55,320.85 455.13,320.95 455.71,321.05 456.30,321.14 456.88,321.24 457.47,321.33 458.05,321.42 458.63,321.51 459.22,321.60 459.80,321.69 460.38,321.78 460.97,321.86 461.55,321.95 462.14,322.03 462.72,322.12 463.30,322.20 463.89,322.28 464.47,322.36 465.05,322.44 465.64,322.52 466.22,322.60 466.81,322.68 467.39,322.75 467.97,322.83 468.56,322.90 469.14,322.98 469.72,323.05 470.31,323.13 470.89,323.20 471.48,323.27 472.06,323.34 472.64,323.41 473.23,323.48 473.81,323.55 474.39,323.62 474.98,323.69 475.56,323.76 476.15,323.82 476.73,323.89 477.31,323.96 477.90,324.02 478.48,324.09 479.07,324.15 479.65,324.21 480.23,324.28 480.82,324.34 481.40,324.40 481.98,324.47 482.57,324.53 483.15,324.59 483.74,324.65 484.32,324.71 484.90,324.77 485.49,324.83 486.07,324.89 486.65,324.95 487.24,325.00 487.82,325.06 488.41,325.12 488.99,325.18 489.57,325.23 490.16,325.29 490.74,325.35 491.32,325.40 491.91,325.46 492.49,325.51 493.08,325.56 493.66,325.62 494.24,325.67 494.83,325.73 495.41,325.78 495.99,325.83 496.58,325.88 497.16,325.94 497.75,325.99 498.33,326.04 498.91,326.09 499.50,326.14 500.08,326.19 500.66,326.24 501.25,326.29 501.83,326.34 502.42,326.39 503.00,326.44 503.58,326.48 504.17,326.53 504.75,326.58 505.33,326.63 505.92,326.68 506.50,326.72 507.09,326.77 507.67,326.81 508.25,326.86 508.84,326.91 509.42,326.95 510.00,327.00 510.59,327.04 511.17,327.09 511.76,327.13 512.34,327.17 512.92,327.22 513.51,327.26 514.09,327.31 514.67,327.35 515.26,327.39 515.84,327.43 516.43,327.48 517.01,327.52 517.59,327.56 518.18,327.60 518.76,327.64 519.35,327.68 519.93,327.72 520.51,327.76 521.10,327.80 521.68,327.84 522.26,327.88 522.85,327.92 523.43,327.96 524.02,328.00 524.60,328.04 525.18,328.08 525.77,328.12 526.35,328.15 526.93,328.19 527.52,328.23 528.10,328.27 528.69,328.30 529.27,328.34 529.85,328.38 530.44,328.41 531.02,328.45 531.60,328.49 532.19,328.52 532.77,328.56 533.36,328.59 533.94,328.63 534.52,328.66 535.11,328.70 535.69,328.73 536.27,328.77 536.86,328.80 537.44,328.83 538.03,328.87 538.61,328.90 539.19,328.93 539.78,328.97 540.36,329.00 540.94,329.03 541.53,329.06 542.11,329.10 542.70,329.13 543.28,329.16 543.86,329.19 544.45,329.22 545.03,329.26 545.61,329.29 546.20,329.32 546.78,329.35 547.37,329.38 547.95,329.41 548.53,329.44 549.12,329.47 549.70,329.50 550.28,329.53 550.87,329.56 551.45,329.59 552.04,329.62 552.62,329.65 553.20,329.67 553.79,329.70 554.37,329.73 554.95,329.76 555.54,329.79 556.12,329.81 556.71,329.84 557.29,329.87 557.87,329.90 558.46,329.92 559.04,329.95 559.63,329.98 560.21,330.01 560.79,330.03 561.38,330.06 561.96,330.08 562.54,330.11 563.13,330.14 563.71,330.16 564.30,330.19 564.88,330.21 565.46,330.24 566.05,330.26 566.63,330.29 567.21,330.31 567.80,330.34 568.38,330.36 568.97,330.39 569.55,330.41 570.13,330.44 570.72,330.46 571.30,330.48 571.88,330.51 572.47,330.53 573.05,330.55 573.64,330.58 574.22,330.60 574.80,330.62 575.39,330.65 575.97,330.67 576.55,330.69 577.14,330.71 577.72,330.74 578.31,330.76 578.89,330.78 579.47,330.80 580.06,330.82 580.64,330.84 581.22,330.87 581.81,330.89 582.39,330.91 582.98,330.93 583.56,330.95 584.14,330.97 584.73,330.99 585.31,331.01 585.89,331.03 586.48,331.05 587.06,331.07 587.65,331.09 588.23,331.11 588.81,331.13 589.40,331.15 589.98,331.17 590.56,331.19 591.15,331.21 591.73,331.23 592.32,331.25 592.90,331.27 593.48,331.29 594.07,331.31 594.65,331.33 595.23,331.34 595.82,331.36 596.40,331.38 596.99,331.40 597.57,331.42 598.15,331.44 598.74,331.45 599.32,331.47 599.91,331.49 600.49,331.51 601.07,331.52 601.66,331.54 602.24,331.56 602.82,331.58 603.41,331.59 603.99,331.61 604.58,331.63 605.16,331.64 605.74,331.66 606.33,331.68 606.91,331.69 607.49,331.71 608.08,331.73 608.66,331.74 609.25,331.76 609.83,331.77 610.41,331.79 611.00,331.81 611.58,331.82 612.16,331.84 612.75,331.85 613.33,331.87 613.92,331.88 614.50,331.90 615.08,331.91 615.67,331.93 616.25,331.94 616.83,331.96 617.42,331.97 618.00,331.99 618.59,332.00 619.17,332.02 619.75,332.03 620.34,332.05 620.92,332.06 621.50,332.07 622.09,332.09 622.67,332.10 623.26,332.12 623.84,332.13 624.42,332.14 625.01,332.16 625.59,332.17 626.17,332.18 626.76,332.20 627.34,332.21 627.93,332.22 628.51,332.24 629.09,332.25 629.68,332.26 630.26,332.28 630.84,332.29 631.43,332.30 632.01,332.31 632.60,332.33 633.18,332.34 633.76,332.35 634.35,332.36 634.93,332.38 635.51,332.39 636.10,332.40 636.68,332.41 637.27,332.42 637.85,332.44 638.43,332.45 639.02,332.46 639.60,332.47 640.18,332.48 640.77,332.50 641.35,332.51 641.94,332.52 642.52,332.53 643.10,332.54 643.69,332.55 644.27,332.56 644.86,332.57 645.44,332.59 646.02,332.60 646.61,332.61 647.19,332.62 647.77,332.63 648.36,332.64 648.94,332.65 649.53,332.66 650.11,332.67 650.69,332.68 651.28,332.69 651.86,332.70 652.44,332.71 653.03,332.72 653.61,332.73 654.20,332.74 654.78,332.75 655.36,332.76 655.95,332.77 656.53,332.78 657.11,332.79 657.70,332.80 658.28,332.81 658.87,332.82 659.45,332.83 660.03,332.84 660.62,332.85 661.20,332.86 661.78,332.87 662.37,332.88 662.95,332.89 663.54,332.90 664.12,332.90 664.70,332.91 665.29,332.92 665.87,332.93 666.45,332.94 667.04,332.95 667.62,332.96 668.21,332.97 668.79,332.98 669.37,332.98 669.96,332.99 670.54,333.00 671.12,333.01 671.71,333.02 672.29,333.03 672.88,333.03 673.46,333.04 674.04,333.05 674.63,333.06 675.21,333.07 675.79,333.08 676.38,333.08 676.96,333.09 677.55,333.10 678.13,333.11 678.71,333.12 679.30,333.12 679.88,333.13 680.46,333.14 681.05,333.15 681.63,333.15 682.22,333.16 682.80,333.17" fill="none" stroke="#ff0000" stroke-width="1.5" stroke-linejoin="round" stroke-linecap="round"/></g><text x="391.50" y="346.90" text-anchor="middle" class="t">0</text><text x="440.05" y="346.90" text-anchor="middle" class="t">0.5</text><text x="488.60" y="346.90" text-anchor="middle" class="t">1</text><text x="537.15" y="346.90" text-anchor="middle" class="t">1.5</text><text x="585.70" y="346.90" text-anchor="middle" class="t">2</text><text x="634.25" y="346.90" text-anchor="middle" class="t">2.5</text><text x="682.80" y="346.90" text-anchor="middle" class="t">3</text><text x="387.40" y="337.70" text-anchor="end" class="t">0</text><text x="387.40" y="303.69" text-anchor="end" class="t">5</text><text x="387.40" y="269.68" text-anchor="end" class="t">10</text><text x="387.40" y="235.66" text-anchor="end" class="t">15</text><text x="387.40" y="201.65" text-anchor="end" class="t">20</text><rect x="611.4" y="205.5" width="63.40" height="33.00" fill="#fff" stroke="#7a7a7a" stroke-width="0.8"/><line x1="614.00" y1="211.70" x2="637.40" y2="211.70" stroke="#000000" stroke-width="1.5"/><text x="639.60" y="215.10" class="lg">Model I</text><line x1="614.00" y1="221.80" x2="637.40" y2="221.80" stroke="#0000ff" stroke-width="1.5"/><text x="639.60" y="225.20" class="lg">Model II</text><line x1="614.00" y1="231.90" x2="637.40" y2="231.90" stroke="#ff0000" stroke-width="1.5"/><text x="639.60" y="235.30" class="lg">Model III</text><text transform="translate(180.10,164.75) scale(1.18,1)" text-anchor="middle" class="ax" font-style="italic">x</text><text transform="translate(537.50,168.00) scale(1.18,1)" text-anchor="middle" class="ax" font-style="italic">x</text><text transform="translate(180.05,357.75) scale(1.18,1)" text-anchor="middle" class="ax" font-style="italic">x</text><text transform="translate(537.55,357.80) scale(1.18,1)" text-anchor="middle" class="ax" font-style="italic">x</text><text transform="translate(10.60,69.10) rotate(-90)" text-anchor="middle" class="ax" textLength="59.5" lengthAdjust="spacing"><tspan font-style="italic">u</tspan>(<tspan font-style="italic">x</tspan>, <tspan font-style="italic">t</tspan> = 0.05)</text><text transform="translate(374.60,76.90) rotate(-90)" text-anchor="middle" class="ax" textLength="53.5" lengthAdjust="spacing"><tspan font-style="italic">u</tspan>(<tspan font-style="italic">x</tspan>, <tspan font-style="italic">t</tspan> = 1.0)</text><text transform="translate(16.60,266.00) rotate(-90)" text-anchor="middle" class="ax" textLength="63" lengthAdjust="spacing"><tspan font-style="italic">N</tspan>(<tspan font-style="italic">x</tspan>, <tspan font-style="italic">t</tspan> = 0.05)</text><text transform="translate(374.00,266.80) rotate(-90)" text-anchor="middle" class="ax" textLength="59" lengthAdjust="spacing"><tspan font-style="italic">N</tspan>(<tspan font-style="italic">x</tspan>, <tspan font-style="italic">t</tspan> = 1.0)</text><text x="0.4" y="9.1" class="pl">(a)</text><text x="359.6" y="10.9" class="pl">(b)</text><text x="4.8" y="199.6" class="pl">(c)</text><text x="360.3" y="200.4" class="pl">(d)</text></svg>
</body></html>
